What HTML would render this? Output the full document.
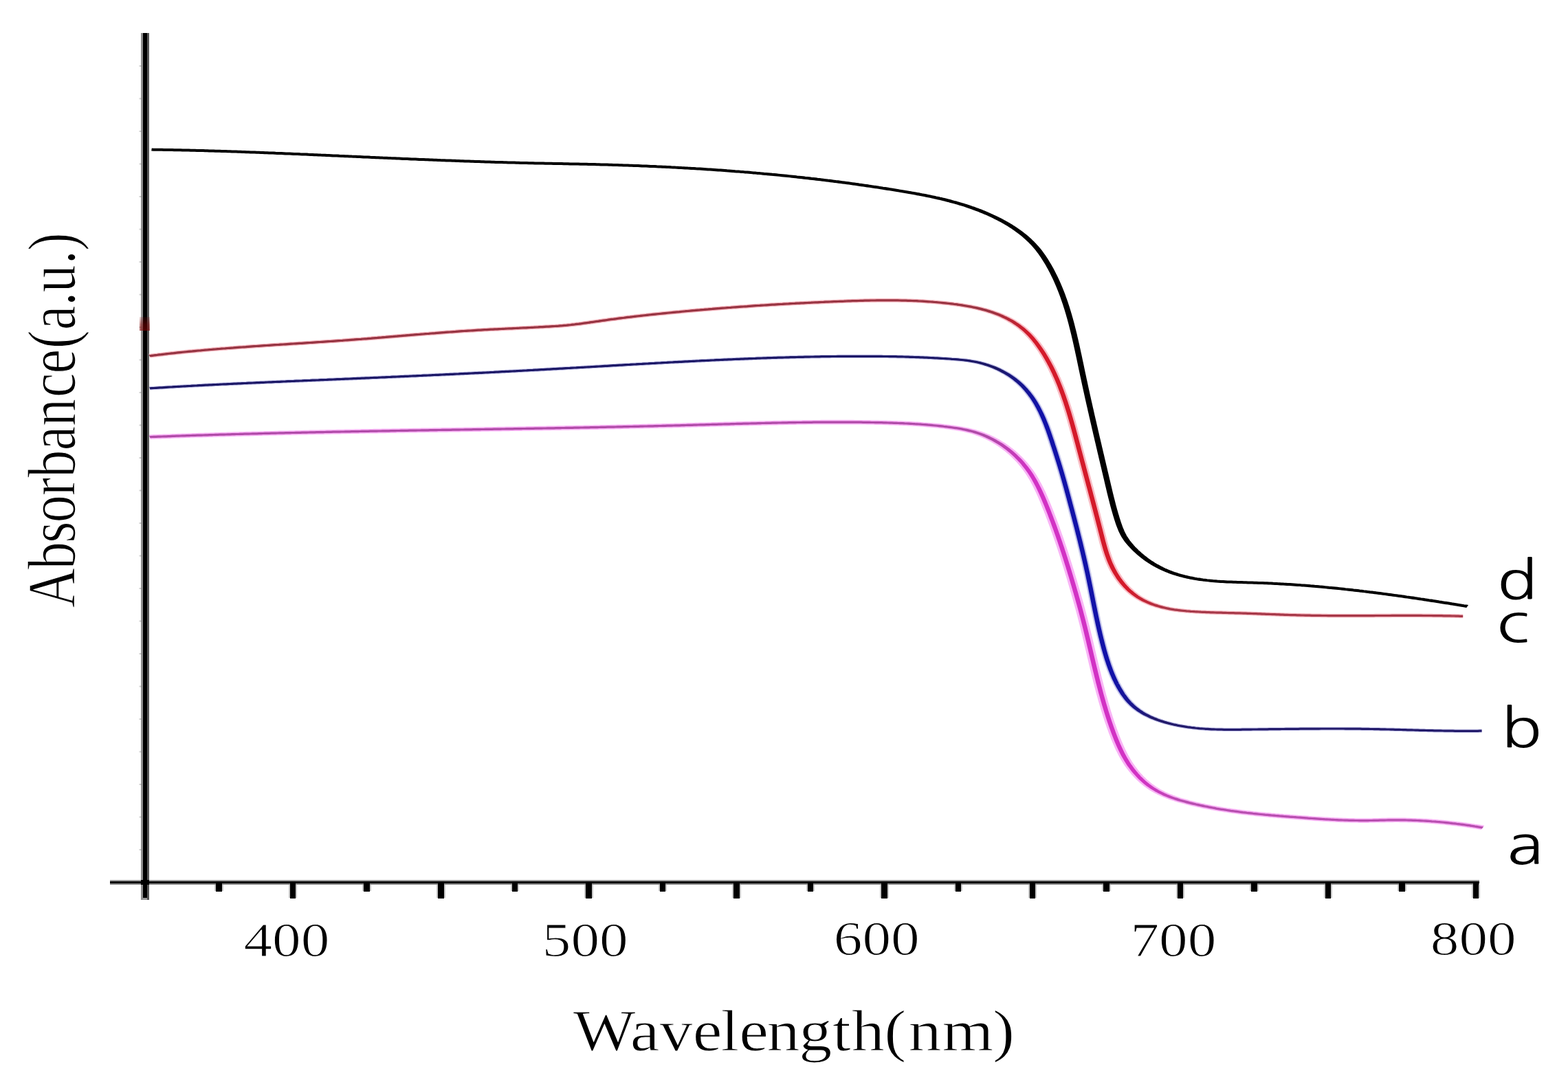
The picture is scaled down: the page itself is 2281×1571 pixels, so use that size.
<!DOCTYPE html><html><head><meta charset="utf-8"><title>Absorbance vs Wavelength</title><style>html,body{margin:0;padding:0;background:#fff;}svg{display:block;}</style></head><body><svg width="2281" height="1571" viewBox="0 0 2281 1571"><rect width="2281" height="1571" fill="#fff"/><g shape-rendering="crispEdges"><rect x="205" y="48" width="3" height="1260.5" fill="#8e8e8e"/><rect x="214" y="48" width="3" height="1260.5" fill="#555"/><rect x="208" y="1306" width="6" height="2.5" fill="#9a9a9a"/><rect x="208" y="48" width="6" height="1258" fill="#000"/><rect x="160" y="1280" width="1992" height="2" fill="#9c9c9c"/><rect x="160" y="1285" width="1992" height="2" fill="#8a8a8a"/><rect x="160" y="1282" width="1992" height="3" fill="#000"/><rect x="205" y="1280" width="12" height="7" fill="#000"/><rect x="312.32" y="1287" width="12.5" height="8.5" fill="#c8c8c8"/><rect x="314.32" y="1283" width="8.5" height="13.5" fill="#000"/><rect x="419.88" y="1287" width="12.5" height="19.0" fill="#c8c8c8"/><rect x="421.88" y="1283" width="8.5" height="24.0" fill="#000"/><rect x="527.45" y="1287" width="12.5" height="8.5" fill="#c8c8c8"/><rect x="529.45" y="1283" width="8.5" height="13.5" fill="#000"/><rect x="635.02" y="1287" width="12.5" height="19.0" fill="#c8c8c8"/><rect x="637.02" y="1283" width="8.5" height="24.0" fill="#000"/><rect x="742.58" y="1287" width="12.5" height="8.5" fill="#c8c8c8"/><rect x="744.58" y="1283" width="8.5" height="13.5" fill="#000"/><rect x="850.15" y="1287" width="12.5" height="19.0" fill="#c8c8c8"/><rect x="852.15" y="1283" width="8.5" height="24.0" fill="#000"/><rect x="957.72" y="1287" width="12.5" height="8.5" fill="#c8c8c8"/><rect x="959.72" y="1283" width="8.5" height="13.5" fill="#000"/><rect x="1065.28" y="1287" width="12.5" height="19.0" fill="#c8c8c8"/><rect x="1067.28" y="1283" width="8.5" height="24.0" fill="#000"/><rect x="1172.85" y="1287" width="12.5" height="8.5" fill="#c8c8c8"/><rect x="1174.85" y="1283" width="8.5" height="13.5" fill="#000"/><rect x="1280.42" y="1287" width="12.5" height="19.0" fill="#c8c8c8"/><rect x="1282.42" y="1283" width="8.5" height="24.0" fill="#000"/><rect x="1387.98" y="1287" width="12.5" height="8.5" fill="#c8c8c8"/><rect x="1389.98" y="1283" width="8.5" height="13.5" fill="#000"/><rect x="1495.55" y="1287" width="12.5" height="19.0" fill="#c8c8c8"/><rect x="1497.55" y="1283" width="8.5" height="24.0" fill="#000"/><rect x="1603.12" y="1287" width="12.5" height="8.5" fill="#c8c8c8"/><rect x="1605.12" y="1283" width="8.5" height="13.5" fill="#000"/><rect x="1710.68" y="1287" width="12.5" height="19.0" fill="#c8c8c8"/><rect x="1712.68" y="1283" width="8.5" height="24.0" fill="#000"/><rect x="1818.25" y="1287" width="12.5" height="8.5" fill="#c8c8c8"/><rect x="1820.25" y="1283" width="8.5" height="13.5" fill="#000"/><rect x="1925.82" y="1287" width="12.5" height="19.0" fill="#c8c8c8"/><rect x="1927.82" y="1283" width="8.5" height="24.0" fill="#000"/><rect x="2033.38" y="1287" width="12.5" height="8.5" fill="#c8c8c8"/><rect x="2035.38" y="1283" width="8.5" height="13.5" fill="#000"/><rect x="2140.95" y="1287" width="12.5" height="19.0" fill="#c8c8c8"/><rect x="2142.95" y="1283" width="8.5" height="24.0" fill="#000"/></g><g fill="#000" opacity="0.18"><rect x="202.5" y="95.0" width="3" height="2"/><rect x="202.5" y="142.5" width="3" height="2"/><rect x="202.5" y="190.0" width="3" height="2"/><rect x="202.5" y="237.5" width="3" height="2"/><rect x="202.5" y="285.0" width="3" height="2"/><rect x="202.5" y="332.5" width="3" height="2"/><rect x="202.5" y="380.0" width="3" height="2"/><rect x="202.5" y="427.5" width="3" height="2"/><rect x="202.5" y="475.0" width="3" height="2"/><rect x="202.5" y="522.5" width="3" height="2"/><rect x="202.5" y="570.0" width="3" height="2"/><rect x="202.5" y="617.5" width="3" height="2"/><rect x="202.5" y="665.0" width="3" height="2"/><rect x="202.5" y="712.5" width="3" height="2"/><rect x="202.5" y="760.0" width="3" height="2"/><rect x="202.5" y="807.5" width="3" height="2"/><rect x="202.5" y="855.0" width="3" height="2"/><rect x="202.5" y="902.5" width="3" height="2"/><rect x="202.5" y="950.0" width="3" height="2"/><rect x="202.5" y="997.5" width="3" height="2"/><rect x="202.5" y="1045.0" width="3" height="2"/><rect x="202.5" y="1092.5" width="3" height="2"/><rect x="202.5" y="1140.0" width="3" height="2"/><rect x="202.5" y="1187.5" width="3" height="2"/><rect x="202.5" y="1235.0" width="3" height="2"/></g><defs><linearGradient id="stain" x1="0" y1="0" x2="0" y2="1"><stop offset="0" stop-color="#800000" stop-opacity="0.15"/><stop offset="0.55" stop-color="#800000" stop-opacity="0.5"/><stop offset="1" stop-color="#800000" stop-opacity="0.6"/></linearGradient></defs><rect x="203" y="461" width="15" height="20" fill="url(#stain)"/><defs><linearGradient id="gr" gradientUnits="userSpaceOnUse" x1="95.24" y1="0" x2="1028.57" y2="0"><stop offset="0.0000" stop-color="#963442"/><stop offset="0.6327" stop-color="#9a3442"/><stop offset="0.6633" stop-color="#d41a2a"/><stop offset="0.7347" stop-color="#d41a2a"/><stop offset="0.7653" stop-color="#a63848"/><stop offset="1.0000" stop-color="#a63848"/></linearGradient><linearGradient id="gb" gradientUnits="userSpaceOnUse" x1="95.24" y1="0" x2="1028.57" y2="0"><stop offset="0.0000" stop-color="#1c1866"/><stop offset="0.6378" stop-color="#1c1866"/><stop offset="0.6684" stop-color="#1212a8"/><stop offset="0.7245" stop-color="#1212a8"/><stop offset="0.7551" stop-color="#221a6a"/><stop offset="1.0000" stop-color="#221a6a"/></linearGradient><linearGradient id="gm" gradientUnits="userSpaceOnUse" x1="95.24" y1="0" x2="1028.57" y2="0"><stop offset="0.0000" stop-color="#b04aa8"/><stop offset="0.6327" stop-color="#b04aa8"/><stop offset="0.6633" stop-color="#d232c4"/><stop offset="0.7449" stop-color="#d232c4"/><stop offset="0.7755" stop-color="#b84eb0"/><stop offset="1.0000" stop-color="#b84eb0"/></linearGradient></defs><g transform="scale(2.1,1)" fill="none" stroke-linejoin="round" stroke-linecap="butt"><path d="M103.71,635.7 105.14,635.5 106.57,635.4 108.00,635.3 109.43,635.2 110.85,635.1 112.28,635.0 113.71,634.9 115.14,634.8 116.57,634.7 117.99,634.6 119.42,634.4 120.85,634.3 122.28,634.2 123.71,634.1 125.13,634.0 126.56,633.9 127.99,633.8 129.42,633.7 130.85,633.6 132.27,633.5 133.70,633.4 135.13,633.3 136.56,633.2 137.99,633.1 139.41,633.1 140.84,633.0 142.27,632.9 143.70,632.8 145.13,632.7 146.56,632.6 147.98,632.5 149.41,632.4 150.84,632.3 152.27,632.2 153.70,632.1 155.12,632.1 156.55,632.0 157.98,631.9 159.41,631.8 160.84,631.7 162.26,631.6 163.69,631.5 165.12,631.5 166.55,631.4 167.98,631.3 169.41,631.2 170.83,631.1 172.26,631.1 173.69,631.0 175.12,630.9 176.55,630.8 177.97,630.8 179.40,630.7 180.83,630.6 182.26,630.5 183.69,630.4 185.12,630.4 186.54,630.3 187.97,630.2 189.40,630.2 190.83,630.1 192.26,630.0 193.69,629.9 195.11,629.9 196.54,629.8 197.97,629.7 199.40,629.7 200.83,629.6 202.26,629.5 203.68,629.5 205.11,629.4 206.54,629.3 207.97,629.3 209.40,629.2 210.83,629.1 212.25,629.1 213.68,629.0 215.11,628.9 216.54,628.9 217.97,628.8 219.40,628.7 220.82,628.7 222.25,628.6 223.68,628.6 225.11,628.5 226.54,628.4 227.97,628.4 229.39,628.3 230.82,628.2 232.25,628.2 233.68,628.1 235.11,628.1 236.54,628.0 237.96,628.0 239.39,627.9 240.82,627.8 242.25,627.8 243.68,627.7 245.11,627.7 246.54,627.6 247.96,627.6 249.39,627.5 250.82,627.4 252.25,627.4 253.68,627.3 255.11,627.3 256.53,627.2 257.96,627.2 259.39,627.1 260.82,627.1 262.25,627.0 263.68,627.0 265.11,626.9 266.53,626.9 267.96,626.8 269.39,626.8 270.82,626.7 272.25,626.6 273.68,626.6 275.10,626.5 276.53,626.5 277.96,626.4 279.39,626.4 280.82,626.3 282.25,626.3 283.68,626.2 285.10,626.2 286.53,626.1 287.96,626.1 289.39,626.0 290.82,626.0 292.25,625.9 293.68,625.9 295.10,625.8 296.53,625.8 297.96,625.7 299.39,625.7 300.82,625.6 302.25,625.6 303.67,625.5 305.10,625.5 306.53,625.4 307.96,625.4 309.39,625.4 310.82,625.3 312.25,625.3 313.67,625.2 315.10,625.2 316.53,625.1 317.96,625.1 319.39,625.0 320.82,625.0 322.25,624.9 323.67,624.9 325.10,624.8 326.53,624.8 327.96,624.7 329.39,624.7 330.82,624.6 332.25,624.6 333.67,624.5 335.10,624.5 336.53,624.4 337.96,624.4 339.39,624.3 340.82,624.3 342.24,624.2 343.67,624.2 345.10,624.1 346.53,624.1 347.96,624.0 349.39,624.0 350.82,623.9 352.24,623.9 353.67,623.8 355.10,623.8 356.53,623.7 357.96,623.7 359.39,623.6 360.82,623.6 362.24,623.5 363.67,623.5 365.10,623.4 366.53,623.4 367.96,623.3 369.39,623.3 370.82,623.2 372.24,623.2 373.67,623.1 375.10,623.1 376.53,623.0 377.96,623.0 379.39,622.9 380.81,622.9 382.24,622.8 383.67,622.8 385.10,622.7 386.53,622.6 387.96,622.6 389.39,622.5 390.81,622.5 392.24,622.4 393.67,622.4 395.10,622.3 396.53,622.3 397.96,622.2 399.39,622.1 400.81,622.1 402.24,622.0 403.67,622.0 405.10,621.9 406.53,621.9 407.96,621.8 409.38,621.7 410.81,621.7 412.24,621.6 413.67,621.6 415.10,621.5 416.53,621.4 417.95,621.4 419.38,621.3 420.81,621.2 422.24,621.2 423.67,621.1 425.10,621.1 426.53,621.0 427.95,620.9 429.38,620.9 430.81,620.8 432.24,620.7 433.67,620.7 435.10,620.6 436.52,620.5 437.95,620.5 439.38,620.4 440.81,620.3 442.24,620.3 443.67,620.2 445.09,620.1 446.52,620.0 447.95,620.0 449.38,619.9 450.81,619.8 452.24,619.8 453.66,619.7 455.09,619.6 456.52,619.5 457.95,619.5 459.38,619.4 460.81,619.3 462.23,619.2 463.66,619.2 465.09,619.1 466.52,619.0 467.95,618.9 469.38,618.9 470.80,618.8 472.23,618.7 473.66,618.6 475.09,618.5 476.52,618.4 477.95,618.4 479.37,618.3 480.80,618.2 482.23,618.1 483.66,618.0 485.09,617.9 486.52,617.9 487.94,617.8 489.37,617.7 490.80,617.6 492.23,617.5 493.66,617.4 495.09,617.4 496.51,617.3 497.94,617.2 499.37,617.1 500.80,617.0 502.23,616.9 503.65,616.9 505.08,616.8 506.51,616.7 507.94,616.6 509.37,616.5 510.80,616.4 512.22,616.4 513.65,616.3 515.08,616.2 516.51,616.1 517.94,616.1 519.36,616.0 520.79,615.9 522.22,615.8 523.65,615.8 525.08,615.7 526.51,615.6 527.93,615.5 529.36,615.5 530.79,615.4 532.22,615.3 533.65,615.3 535.07,615.2 536.50,615.1 537.93,615.1 539.36,615.0 540.79,615.0 542.21,614.9 543.64,614.8 545.07,614.8 546.50,614.7 547.93,614.7 549.36,614.6 550.78,614.6 552.21,614.5 553.64,614.5 555.07,614.5 556.50,614.4 557.92,614.4 559.35,614.3 560.78,614.3 562.21,614.3 563.64,614.2 565.06,614.2 566.49,614.2 567.92,614.2 569.35,614.1 570.78,614.1 572.20,614.1 573.63,614.1 575.06,614.1 576.49,614.1 577.92,614.1 579.35,614.1 580.77,614.1 582.20,614.1 583.63,614.1 585.06,614.1 586.49,614.1 587.91,614.1 589.34,614.1 590.77,614.1 592.20,614.2 593.63,614.2 595.05,614.2 596.48,614.2 597.91,614.3 599.34,614.3 600.77,614.4 602.19,614.4 603.62,614.5 605.05,614.5 606.48,614.6 607.91,614.6 609.33,614.7 610.76,614.7 612.19,614.8 613.62,614.9 615.05,615.0 616.47,615.1 617.90,615.2 619.33,615.3 620.76,615.4 622.18,615.5 623.61,615.6 625.04,615.7 626.47,615.9 627.89,616.0 629.32,616.1 630.75,616.3 632.18,616.5 633.60,616.7 635.03,616.8 636.46,617.0 637.88,617.2 639.31,617.5 640.74,617.7 642.16,617.9 643.59,618.2 645.01,618.4 646.44,618.7 647.87,619.0 649.29,619.3 650.72,619.6 652.14,619.9 653.57,620.3 654.99,620.6 656.42,621.0 657.84,621.4 659.26,621.8 660.69,622.2 662.11,622.6 663.53,623.1 664.94,623.6 666.35,624.1 667.76,624.7 669.16,625.3 670.56,626.0 671.95,626.7 673.33,627.4 674.70,628.2 676.07,629.1 677.43,630.0 678.77,631.0 680.11,632.0 681.44,633.1 682.75,634.3 684.06,635.5 685.35,636.8 686.63,638.1 687.90,639.5 689.15,640.9 690.39,642.4 691.62,644.0 692.83,645.5 694.02,647.2 695.20,648.9 696.37,650.6 697.51,652.4 698.64,654.2 699.75,656.1 700.85,658.0 701.92,660.0 702.98,662.0 704.01,664.1 705.03,666.2 706.02,668.3 707.00,670.5 707.95,672.7 708.88,675.0 709.78,677.3 710.67,679.6 711.53,682.0 712.37,684.4 713.18,686.8 713.97,689.3 714.74,691.8 715.48,694.4 716.21,696.9 716.92,699.5 717.61,702.2 718.28,704.8 718.93,707.5 719.57,710.2 720.20,712.9 720.81,715.6 721.41,718.3 722.00,721.1 722.58,723.9 723.14,726.6 723.70,729.4 724.25,732.2 724.80,735.0 725.33,737.8 725.87,740.6 726.40,743.4 726.92,746.2 727.44,749.0 727.95,751.9 728.46,754.7 728.97,757.5 729.47,760.3 729.97,763.1 730.46,765.9 730.95,768.8 731.43,771.6 731.91,774.4 732.39,777.2 732.86,780.1 733.33,782.9 733.79,785.7 734.26,788.6 734.71,791.4 735.17,794.2 735.62,797.1 736.07,799.9 736.51,802.8 736.95,805.6 737.39,808.5 737.83,811.3 738.26,814.2 738.69,817.0 739.12,819.9 739.54,822.7 739.96,825.6 740.38,828.4 740.80,831.3 741.21,834.2 741.62,837.0 742.03,839.9 742.44,842.7 742.84,845.6 743.24,848.5 743.64,851.4 744.04,854.2 744.44,857.1 744.83,860.0 745.23,862.8 745.62,865.7 746.01,868.6 746.40,871.5 746.78,874.4 747.17,877.3 747.55,880.1 747.92,883.0 748.30,885.9 748.67,888.8 749.04,891.7 749.40,894.6 749.77,897.5 750.12,900.4 750.48,903.3 750.83,906.2 751.18,909.1 751.53,912.0 751.87,914.9 752.21,917.9 752.55,920.8 752.88,923.7 753.22,926.6 753.55,929.5 753.88,932.4 754.21,935.4 754.53,938.3 754.86,941.2 755.19,944.1 755.51,947.0 755.84,950.0 756.17,952.9 756.49,955.8 756.82,958.7 757.15,961.6 757.48,964.6 757.81,967.5 758.14,970.4 758.48,973.3 758.81,976.2 759.15,979.1 759.49,982.0 759.83,985.0 760.18,987.9 760.52,990.8 760.87,993.7 761.23,996.6 761.59,999.5 761.95,1002.4 762.31,1005.3 762.68,1008.2 763.06,1011.1 763.44,1013.9 763.82,1016.8 764.21,1019.7 764.60,1022.6 765.00,1025.5 765.41,1028.3 765.82,1031.2 766.23,1034.1 766.66,1036.9 767.08,1039.8 767.52,1042.7 767.96,1045.5 768.41,1048.4 768.87,1051.2 769.33,1054.0 769.81,1056.9 770.29,1059.7 770.78,1062.5 771.27,1065.4 771.78,1068.2 772.29,1071.0 772.81,1073.8 773.35,1076.6 773.90,1079.4 774.46,1082.2 775.03,1084.9 775.62,1087.7 776.23,1090.4 776.86,1093.1 777.50,1095.8 778.17,1098.5 778.86,1101.1 779.57,1103.7 780.31,1106.3 781.07,1108.9 781.86,1111.4 782.67,1113.9 783.51,1116.3 784.37,1118.7 785.25,1121.1 786.15,1123.4 787.08,1125.7 788.04,1127.9 789.01,1130.1 790.01,1132.2 791.03,1134.3 792.08,1136.3 793.14,1138.2 794.23,1140.1 795.34,1142.0 796.47,1143.7 797.62,1145.4 798.80,1147.1 800.00,1148.6 801.21,1150.1 802.45,1151.5 803.70,1152.9 804.97,1154.2 806.25,1155.5 807.55,1156.7 808.86,1157.8 810.19,1158.9 811.53,1160.0 812.88,1161.0 814.24,1161.9 815.60,1162.9 816.98,1163.8 818.36,1164.6 819.75,1165.4 821.14,1166.2 822.54,1167.0 823.94,1167.8 825.34,1168.5 826.75,1169.2 828.15,1169.9 829.55,1170.5 830.96,1171.2 832.36,1171.8 833.77,1172.5 835.18,1173.1 836.59,1173.6 837.99,1174.2 839.40,1174.8 840.81,1175.3 842.22,1175.9 843.63,1176.4 845.04,1176.9 846.45,1177.4 847.86,1177.8 849.28,1178.3 850.69,1178.7 852.10,1179.2 853.52,1179.6 854.93,1180.0 856.34,1180.4 857.76,1180.8 859.18,1181.2 860.59,1181.6 862.01,1181.9 863.42,1182.3 864.84,1182.6 866.26,1182.9 867.68,1183.3 869.10,1183.6 870.51,1183.9 871.93,1184.2 873.35,1184.5 874.77,1184.8 876.19,1185.1 877.61,1185.3 879.03,1185.6 880.45,1185.9 881.87,1186.1 883.30,1186.4 884.72,1186.6 886.14,1186.9 887.56,1187.1 888.98,1187.4 890.41,1187.6 891.83,1187.8 893.25,1188.1 894.67,1188.3 896.10,1188.5 897.52,1188.7 898.95,1189.0 900.37,1189.2 901.79,1189.4 903.22,1189.6 904.64,1189.8 906.07,1190.1 907.49,1190.3 908.91,1190.5 910.34,1190.7 911.76,1190.9 913.19,1191.1 914.61,1191.3 916.04,1191.5 917.46,1191.7 918.89,1191.8 920.32,1192.0 921.74,1192.2 923.17,1192.3 924.59,1192.5 926.02,1192.6 927.45,1192.8 928.87,1192.9 930.30,1193.0 931.73,1193.1 933.15,1193.2 934.58,1193.3 936.01,1193.4 937.43,1193.4 938.86,1193.5 940.29,1193.5 941.72,1193.6 943.14,1193.6 944.57,1193.6 946.00,1193.6 947.43,1193.6 948.86,1193.5 950.28,1193.5 951.71,1193.4 953.14,1193.3 954.57,1193.3 956.00,1193.2 957.43,1193.1 958.86,1193.1 960.28,1193.0 961.71,1192.9 963.14,1192.9 964.57,1192.9 966.00,1192.8 967.43,1192.8 968.86,1192.8 970.28,1192.9 971.71,1192.9 973.14,1192.9 974.57,1193.0 975.99,1193.1 977.42,1193.2 978.85,1193.3 980.28,1193.4 981.70,1193.5 983.13,1193.6 984.55,1193.8 985.98,1194.0 987.41,1194.1 988.83,1194.3 990.26,1194.5 991.68,1194.8 993.11,1195.0 994.53,1195.2 995.95,1195.5 997.38,1195.7 998.80,1196.0 1000.22,1196.3 1001.64,1196.6 1003.06,1196.9 1004.49,1197.2 1005.91,1197.6 1007.33,1197.9 1008.75,1198.3 1010.16,1198.6 1011.58,1199.0 1013.00,1199.4 1014.42,1199.8 1015.83,1200.2 1017.25,1200.6 1018.67,1201.1 1020.08,1201.5 1021.49,1202.0 1022.91,1202.4 1024.32,1202.9 1025.73,1203.4 1027.14,1203.9" stroke="#f9b4f6" stroke-width="6.6"/><path d="M103.71,635.7 105.14,635.5 106.57,635.4 108.00,635.3 109.43,635.2 110.85,635.1 112.28,635.0 113.71,634.9 115.14,634.8 116.57,634.7 117.99,634.6 119.42,634.4 120.85,634.3 122.28,634.2 123.71,634.1 125.13,634.0 126.56,633.9 127.99,633.8 129.42,633.7 130.85,633.6 132.27,633.5 133.70,633.4 135.13,633.3 136.56,633.2 137.99,633.1 139.41,633.1 140.84,633.0 142.27,632.9 143.70,632.8 145.13,632.7 146.56,632.6 147.98,632.5 149.41,632.4 150.84,632.3 152.27,632.2 153.70,632.1 155.12,632.1 156.55,632.0 157.98,631.9 159.41,631.8 160.84,631.7 162.26,631.6 163.69,631.5 165.12,631.5 166.55,631.4 167.98,631.3 169.41,631.2 170.83,631.1 172.26,631.1 173.69,631.0 175.12,630.9 176.55,630.8 177.97,630.8 179.40,630.7 180.83,630.6 182.26,630.5 183.69,630.4 185.12,630.4 186.54,630.3 187.97,630.2 189.40,630.2 190.83,630.1 192.26,630.0 193.69,629.9 195.11,629.9 196.54,629.8 197.97,629.7 199.40,629.7 200.83,629.6 202.26,629.5 203.68,629.5 205.11,629.4 206.54,629.3 207.97,629.3 209.40,629.2 210.83,629.1 212.25,629.1 213.68,629.0 215.11,628.9 216.54,628.9 217.97,628.8 219.40,628.7 220.82,628.7 222.25,628.6 223.68,628.6 225.11,628.5 226.54,628.4 227.97,628.4 229.39,628.3 230.82,628.2 232.25,628.2 233.68,628.1 235.11,628.1 236.54,628.0 237.96,628.0 239.39,627.9 240.82,627.8 242.25,627.8 243.68,627.7 245.11,627.7 246.54,627.6 247.96,627.6 249.39,627.5 250.82,627.4 252.25,627.4 253.68,627.3 255.11,627.3 256.53,627.2 257.96,627.2 259.39,627.1 260.82,627.1 262.25,627.0 263.68,627.0 265.11,626.9 266.53,626.9 267.96,626.8 269.39,626.8 270.82,626.7 272.25,626.6 273.68,626.6 275.10,626.5 276.53,626.5 277.96,626.4 279.39,626.4 280.82,626.3 282.25,626.3 283.68,626.2 285.10,626.2 286.53,626.1 287.96,626.1 289.39,626.0 290.82,626.0 292.25,625.9 293.68,625.9 295.10,625.8 296.53,625.8 297.96,625.7 299.39,625.7 300.82,625.6 302.25,625.6 303.67,625.5 305.10,625.5 306.53,625.4 307.96,625.4 309.39,625.4 310.82,625.3 312.25,625.3 313.67,625.2 315.10,625.2 316.53,625.1 317.96,625.1 319.39,625.0 320.82,625.0 322.25,624.9 323.67,624.9 325.10,624.8 326.53,624.8 327.96,624.7 329.39,624.7 330.82,624.6 332.25,624.6 333.67,624.5 335.10,624.5 336.53,624.4 337.96,624.4 339.39,624.3 340.82,624.3 342.24,624.2 343.67,624.2 345.10,624.1 346.53,624.1 347.96,624.0 349.39,624.0 350.82,623.9 352.24,623.9 353.67,623.8 355.10,623.8 356.53,623.7 357.96,623.7 359.39,623.6 360.82,623.6 362.24,623.5 363.67,623.5 365.10,623.4 366.53,623.4 367.96,623.3 369.39,623.3 370.82,623.2 372.24,623.2 373.67,623.1 375.10,623.1 376.53,623.0 377.96,623.0 379.39,622.9 380.81,622.9 382.24,622.8 383.67,622.8 385.10,622.7 386.53,622.6 387.96,622.6 389.39,622.5 390.81,622.5 392.24,622.4 393.67,622.4 395.10,622.3 396.53,622.3 397.96,622.2 399.39,622.1 400.81,622.1 402.24,622.0 403.67,622.0 405.10,621.9 406.53,621.9 407.96,621.8 409.38,621.7 410.81,621.7 412.24,621.6 413.67,621.6 415.10,621.5 416.53,621.4 417.95,621.4 419.38,621.3 420.81,621.2 422.24,621.2 423.67,621.1 425.10,621.1 426.53,621.0 427.95,620.9 429.38,620.9 430.81,620.8 432.24,620.7 433.67,620.7 435.10,620.6 436.52,620.5 437.95,620.5 439.38,620.4 440.81,620.3 442.24,620.3 443.67,620.2 445.09,620.1 446.52,620.0 447.95,620.0 449.38,619.9 450.81,619.8 452.24,619.8 453.66,619.7 455.09,619.6 456.52,619.5 457.95,619.5 459.38,619.4 460.81,619.3 462.23,619.2 463.66,619.2 465.09,619.1 466.52,619.0 467.95,618.9 469.38,618.9 470.80,618.8 472.23,618.7 473.66,618.6 475.09,618.5 476.52,618.4 477.95,618.4 479.37,618.3 480.80,618.2 482.23,618.1 483.66,618.0 485.09,617.9 486.52,617.9 487.94,617.8 489.37,617.7 490.80,617.6 492.23,617.5 493.66,617.4 495.09,617.4 496.51,617.3 497.94,617.2 499.37,617.1 500.80,617.0 502.23,616.9 503.65,616.9 505.08,616.8 506.51,616.7 507.94,616.6 509.37,616.5 510.80,616.4 512.22,616.4 513.65,616.3 515.08,616.2 516.51,616.1 517.94,616.1 519.36,616.0 520.79,615.9 522.22,615.8 523.65,615.8 525.08,615.7 526.51,615.6 527.93,615.5 529.36,615.5 530.79,615.4 532.22,615.3 533.65,615.3 535.07,615.2 536.50,615.1 537.93,615.1 539.36,615.0 540.79,615.0 542.21,614.9 543.64,614.8 545.07,614.8 546.50,614.7 547.93,614.7 549.36,614.6 550.78,614.6 552.21,614.5 553.64,614.5 555.07,614.5 556.50,614.4 557.92,614.4 559.35,614.3 560.78,614.3 562.21,614.3 563.64,614.2 565.06,614.2 566.49,614.2 567.92,614.2 569.35,614.1 570.78,614.1 572.20,614.1 573.63,614.1 575.06,614.1 576.49,614.1 577.92,614.1 579.35,614.1 580.77,614.1 582.20,614.1 583.63,614.1 585.06,614.1 586.49,614.1 587.91,614.1 589.34,614.1 590.77,614.1 592.20,614.2 593.63,614.2 595.05,614.2 596.48,614.2 597.91,614.3 599.34,614.3 600.77,614.4 602.19,614.4 603.62,614.5 605.05,614.5 606.48,614.6 607.91,614.6 609.33,614.7 610.76,614.7 612.19,614.8 613.62,614.9 615.05,615.0 616.47,615.1 617.90,615.2 619.33,615.3 620.76,615.4 622.18,615.5 623.61,615.6 625.04,615.7 626.47,615.9 627.89,616.0 629.32,616.1 630.75,616.3 632.18,616.5 633.60,616.7 635.03,616.8 636.46,617.0 637.88,617.2 639.31,617.5 640.74,617.7 642.16,617.9 643.59,618.2 645.01,618.4 646.44,618.7 647.87,619.0 649.29,619.3 650.72,619.6 652.14,619.9 653.57,620.3 654.99,620.6 656.42,621.0 657.84,621.4 659.26,621.8 660.69,622.2 662.11,622.6 663.53,623.1 664.94,623.6 666.35,624.1 667.76,624.7 669.16,625.3 670.56,626.0 671.95,626.7 673.33,627.4 674.70,628.2 676.07,629.1 677.43,630.0 678.77,631.0 680.11,632.0 681.44,633.1 682.75,634.3 684.06,635.5 685.35,636.8 686.63,638.1 687.90,639.5 689.15,640.9 690.39,642.4 691.62,644.0 692.83,645.5 694.02,647.2 695.20,648.9 696.37,650.6 697.51,652.4 698.64,654.2 699.75,656.1 700.85,658.0 701.92,660.0 702.98,662.0 704.01,664.1 705.03,666.2 706.02,668.3 707.00,670.5 707.95,672.7 708.88,675.0 709.78,677.3 710.67,679.6 711.53,682.0 712.37,684.4 713.18,686.8 713.97,689.3 714.74,691.8 715.48,694.4 716.21,696.9 716.92,699.5 717.61,702.2 718.28,704.8 718.93,707.5 719.57,710.2 720.20,712.9 720.81,715.6 721.41,718.3 722.00,721.1 722.58,723.9 723.14,726.6 723.70,729.4 724.25,732.2 724.80,735.0 725.33,737.8 725.87,740.6 726.40,743.4 726.92,746.2 727.44,749.0 727.95,751.9 728.46,754.7 728.97,757.5 729.47,760.3 729.97,763.1 730.46,765.9 730.95,768.8 731.43,771.6 731.91,774.4 732.39,777.2 732.86,780.1 733.33,782.9 733.79,785.7 734.26,788.6 734.71,791.4 735.17,794.2 735.62,797.1 736.07,799.9 736.51,802.8 736.95,805.6 737.39,808.5 737.83,811.3 738.26,814.2 738.69,817.0 739.12,819.9 739.54,822.7 739.96,825.6 740.38,828.4 740.80,831.3 741.21,834.2 741.62,837.0 742.03,839.9 742.44,842.7 742.84,845.6 743.24,848.5 743.64,851.4 744.04,854.2 744.44,857.1 744.83,860.0 745.23,862.8 745.62,865.7 746.01,868.6 746.40,871.5 746.78,874.4 747.17,877.3 747.55,880.1 747.92,883.0 748.30,885.9 748.67,888.8 749.04,891.7 749.40,894.6 749.77,897.5 750.12,900.4 750.48,903.3 750.83,906.2 751.18,909.1 751.53,912.0 751.87,914.9 752.21,917.9 752.55,920.8 752.88,923.7 753.22,926.6 753.55,929.5 753.88,932.4 754.21,935.4 754.53,938.3 754.86,941.2 755.19,944.1 755.51,947.0 755.84,950.0 756.17,952.9 756.49,955.8 756.82,958.7 757.15,961.6 757.48,964.6 757.81,967.5 758.14,970.4 758.48,973.3 758.81,976.2 759.15,979.1 759.49,982.0 759.83,985.0 760.18,987.9 760.52,990.8 760.87,993.7 761.23,996.6 761.59,999.5 761.95,1002.4 762.31,1005.3 762.68,1008.2 763.06,1011.1 763.44,1013.9 763.82,1016.8 764.21,1019.7 764.60,1022.6 765.00,1025.5 765.41,1028.3 765.82,1031.2 766.23,1034.1 766.66,1036.9 767.08,1039.8 767.52,1042.7 767.96,1045.5 768.41,1048.4 768.87,1051.2 769.33,1054.0 769.81,1056.9 770.29,1059.7 770.78,1062.5 771.27,1065.4 771.78,1068.2 772.29,1071.0 772.81,1073.8 773.35,1076.6 773.90,1079.4 774.46,1082.2 775.03,1084.9 775.62,1087.7 776.23,1090.4 776.86,1093.1 777.50,1095.8 778.17,1098.5 778.86,1101.1 779.57,1103.7 780.31,1106.3 781.07,1108.9 781.86,1111.4 782.67,1113.9 783.51,1116.3 784.37,1118.7 785.25,1121.1 786.15,1123.4 787.08,1125.7 788.04,1127.9 789.01,1130.1 790.01,1132.2 791.03,1134.3 792.08,1136.3 793.14,1138.2 794.23,1140.1 795.34,1142.0 796.47,1143.7 797.62,1145.4 798.80,1147.1 800.00,1148.6 801.21,1150.1 802.45,1151.5 803.70,1152.9 804.97,1154.2 806.25,1155.5 807.55,1156.7 808.86,1157.8 810.19,1158.9 811.53,1160.0 812.88,1161.0 814.24,1161.9 815.60,1162.9 816.98,1163.8 818.36,1164.6 819.75,1165.4 821.14,1166.2 822.54,1167.0 823.94,1167.8 825.34,1168.5 826.75,1169.2 828.15,1169.9 829.55,1170.5 830.96,1171.2 832.36,1171.8 833.77,1172.5 835.18,1173.1 836.59,1173.6 837.99,1174.2 839.40,1174.8 840.81,1175.3 842.22,1175.9 843.63,1176.4 845.04,1176.9 846.45,1177.4 847.86,1177.8 849.28,1178.3 850.69,1178.7 852.10,1179.2 853.52,1179.6 854.93,1180.0 856.34,1180.4 857.76,1180.8 859.18,1181.2 860.59,1181.6 862.01,1181.9 863.42,1182.3 864.84,1182.6 866.26,1182.9 867.68,1183.3 869.10,1183.6 870.51,1183.9 871.93,1184.2 873.35,1184.5 874.77,1184.8 876.19,1185.1 877.61,1185.3 879.03,1185.6 880.45,1185.9 881.87,1186.1 883.30,1186.4 884.72,1186.6 886.14,1186.9 887.56,1187.1 888.98,1187.4 890.41,1187.6 891.83,1187.8 893.25,1188.1 894.67,1188.3 896.10,1188.5 897.52,1188.7 898.95,1189.0 900.37,1189.2 901.79,1189.4 903.22,1189.6 904.64,1189.8 906.07,1190.1 907.49,1190.3 908.91,1190.5 910.34,1190.7 911.76,1190.9 913.19,1191.1 914.61,1191.3 916.04,1191.5 917.46,1191.7 918.89,1191.8 920.32,1192.0 921.74,1192.2 923.17,1192.3 924.59,1192.5 926.02,1192.6 927.45,1192.8 928.87,1192.9 930.30,1193.0 931.73,1193.1 933.15,1193.2 934.58,1193.3 936.01,1193.4 937.43,1193.4 938.86,1193.5 940.29,1193.5 941.72,1193.6 943.14,1193.6 944.57,1193.6 946.00,1193.6 947.43,1193.6 948.86,1193.5 950.28,1193.5 951.71,1193.4 953.14,1193.3 954.57,1193.3 956.00,1193.2 957.43,1193.1 958.86,1193.1 960.28,1193.0 961.71,1192.9 963.14,1192.9 964.57,1192.9 966.00,1192.8 967.43,1192.8 968.86,1192.8 970.28,1192.9 971.71,1192.9 973.14,1192.9 974.57,1193.0 975.99,1193.1 977.42,1193.2 978.85,1193.3 980.28,1193.4 981.70,1193.5 983.13,1193.6 984.55,1193.8 985.98,1194.0 987.41,1194.1 988.83,1194.3 990.26,1194.5 991.68,1194.8 993.11,1195.0 994.53,1195.2 995.95,1195.5 997.38,1195.7 998.80,1196.0 1000.22,1196.3 1001.64,1196.6 1003.06,1196.9 1004.49,1197.2 1005.91,1197.6 1007.33,1197.9 1008.75,1198.3 1010.16,1198.6 1011.58,1199.0 1013.00,1199.4 1014.42,1199.8 1015.83,1200.2 1017.25,1200.6 1018.67,1201.1 1020.08,1201.5 1021.49,1202.0 1022.91,1202.4 1024.32,1202.9 1025.73,1203.4 1027.14,1203.9" stroke="url(#gm)" stroke-width="3.2"/><path d="M103.72,564.9 105.15,564.7 106.58,564.5 108.00,564.3 109.43,564.1 110.85,563.9 112.28,563.8 113.71,563.6 115.13,563.4 116.56,563.2 117.99,563.0 119.41,562.9 120.84,562.7 122.27,562.5 123.69,562.3 125.12,562.2 126.55,562.0 127.97,561.8 129.40,561.7 130.83,561.5 132.25,561.4 133.68,561.2 135.11,561.0 136.53,560.9 137.96,560.7 139.39,560.6 140.82,560.4 142.24,560.2 143.67,560.1 145.10,559.9 146.52,559.8 147.95,559.6 149.38,559.5 150.81,559.3 152.23,559.2 153.66,559.0 155.09,558.9 156.52,558.8 157.94,558.6 159.37,558.5 160.80,558.3 162.23,558.2 163.65,558.1 165.08,557.9 166.51,557.8 167.94,557.6 169.36,557.5 170.79,557.4 172.22,557.2 173.65,557.1 175.07,557.0 176.50,556.8 177.93,556.7 179.36,556.6 180.79,556.4 182.21,556.3 183.64,556.2 185.07,556.0 186.50,555.9 187.92,555.8 189.35,555.6 190.78,555.5 192.21,555.4 193.64,555.3 195.06,555.1 196.49,555.0 197.92,554.9 199.35,554.7 200.77,554.6 202.20,554.5 203.63,554.4 205.06,554.2 206.49,554.1 207.91,554.0 209.34,553.9 210.77,553.7 212.20,553.6 213.63,553.5 215.05,553.4 216.48,553.2 217.91,553.1 219.34,553.0 220.76,552.9 222.19,552.7 223.62,552.6 225.05,552.5 226.48,552.4 227.90,552.2 229.33,552.1 230.76,552.0 232.19,551.8 233.61,551.7 235.04,551.6 236.47,551.5 237.90,551.3 239.33,551.2 240.75,551.1 242.18,551.0 243.61,550.8 245.04,550.7 246.46,550.6 247.89,550.4 249.32,550.3 250.75,550.2 252.17,550.1 253.60,549.9 255.03,549.8 256.46,549.7 257.89,549.5 259.31,549.4 260.74,549.3 262.17,549.2 263.60,549.0 265.02,548.9 266.45,548.8 267.88,548.6 269.31,548.5 270.73,548.4 272.16,548.2 273.59,548.1 275.02,548.0 276.44,547.8 277.87,547.7 279.30,547.6 280.73,547.4 282.15,547.3 283.58,547.2 285.01,547.0 286.44,546.9 287.86,546.8 289.29,546.6 290.72,546.5 292.15,546.4 293.57,546.2 295.00,546.1 296.43,546.0 297.86,545.8 299.28,545.7 300.71,545.5 302.14,545.4 303.56,545.3 304.99,545.1 306.42,545.0 307.85,544.8 309.27,544.7 310.70,544.6 312.13,544.4 313.56,544.3 314.98,544.1 316.41,544.0 317.84,543.9 319.27,543.7 320.69,543.6 322.12,543.4 323.55,543.3 324.97,543.1 326.40,543.0 327.83,542.8 329.26,542.7 330.68,542.6 332.11,542.4 333.54,542.3 334.96,542.1 336.39,542.0 337.82,541.8 339.25,541.7 340.67,541.5 342.10,541.4 343.53,541.2 344.95,541.1 346.38,540.9 347.81,540.7 349.24,540.6 350.66,540.4 352.09,540.3 353.52,540.1 354.94,540.0 356.37,539.8 357.80,539.7 359.23,539.5 360.65,539.3 362.08,539.2 363.51,539.0 364.93,538.9 366.36,538.7 367.79,538.5 369.21,538.4 370.64,538.2 372.07,538.1 373.50,537.9 374.92,537.7 376.35,537.6 377.78,537.4 379.20,537.2 380.63,537.1 382.06,536.9 383.48,536.7 384.91,536.6 386.34,536.4 387.76,536.2 389.19,536.1 390.62,535.9 392.05,535.7 393.47,535.5 394.90,535.4 396.33,535.2 397.75,535.0 399.18,534.9 400.61,534.7 402.03,534.5 403.46,534.3 404.89,534.2 406.31,534.0 407.74,533.8 409.17,533.7 410.59,533.5 412.02,533.3 413.45,533.1 414.87,533.0 416.30,532.8 417.73,532.6 419.16,532.4 420.58,532.3 422.01,532.1 423.44,531.9 424.86,531.7 426.29,531.6 427.72,531.4 429.14,531.2 430.57,531.1 432.00,530.9 433.42,530.7 434.85,530.5 436.28,530.4 437.70,530.2 439.13,530.0 440.56,529.9 441.99,529.7 443.41,529.5 444.84,529.4 446.27,529.2 447.69,529.0 449.12,528.9 450.55,528.7 451.97,528.5 453.40,528.4 454.83,528.2 456.25,528.0 457.68,527.9 459.11,527.7 460.54,527.5 461.96,527.4 463.39,527.2 464.82,527.0 466.24,526.9 467.67,526.7 469.10,526.6 470.53,526.4 471.95,526.3 473.38,526.1 474.81,525.9 476.23,525.8 477.66,525.6 479.09,525.5 480.52,525.3 481.94,525.2 483.37,525.0 484.80,524.9 486.22,524.7 487.65,524.6 489.08,524.5 490.51,524.3 491.93,524.2 493.36,524.0 494.79,523.9 496.22,523.7 497.64,523.6 499.07,523.5 500.50,523.3 501.93,523.2 503.35,523.1 504.78,522.9 506.21,522.8 507.64,522.7 509.06,522.5 510.49,522.4 511.92,522.3 513.35,522.2 514.77,522.1 516.20,521.9 517.63,521.8 519.06,521.7 520.48,521.6 521.91,521.5 523.34,521.4 524.77,521.2 526.20,521.1 527.62,521.0 529.05,520.9 530.48,520.8 531.91,520.7 533.34,520.6 534.76,520.5 536.19,520.4 537.62,520.3 539.05,520.2 540.48,520.1 541.90,520.1 543.33,520.0 544.76,519.9 546.19,519.8 547.62,519.7 549.05,519.6 550.47,519.6 551.90,519.5 553.33,519.4 554.76,519.3 556.19,519.3 557.62,519.2 559.04,519.1 560.47,519.1 561.90,519.0 563.33,519.0 564.76,518.9 566.19,518.8 567.62,518.8 569.05,518.7 570.47,518.7 571.90,518.7 573.33,518.6 574.76,518.6 576.19,518.5 577.62,518.5 579.05,518.5 580.48,518.4 581.91,518.4 583.34,518.4 584.77,518.4 586.19,518.3 587.62,518.3 589.05,518.3 590.48,518.3 591.91,518.3 593.34,518.3 594.77,518.3 596.20,518.3 597.63,518.3 599.06,518.3 600.49,518.3 601.92,518.3 603.35,518.3 604.78,518.3 606.21,518.4 607.64,518.4 609.07,518.4 610.50,518.4 611.93,518.5 613.36,518.5 614.79,518.5 616.22,518.6 617.65,518.6 619.07,518.7 620.50,518.7 621.93,518.8 623.36,518.9 624.79,518.9 626.22,519.0 627.65,519.1 629.08,519.2 630.51,519.3 631.94,519.4 633.37,519.5 634.79,519.6 636.22,519.7 637.65,519.8 639.08,519.9 640.51,520.1 641.94,520.2 643.36,520.3 644.79,520.5 646.22,520.6 647.65,520.8 649.07,520.9 650.50,521.1 651.93,521.3 653.35,521.5 654.78,521.6 656.21,521.8 657.63,522.0 659.06,522.3 660.48,522.5 661.91,522.7 663.33,522.9 664.76,523.2 666.18,523.5 667.60,523.8 669.02,524.1 670.44,524.5 671.85,524.9 673.26,525.4 674.67,525.9 676.08,526.5 677.48,527.1 678.88,527.8 680.27,528.6 681.66,529.4 683.03,530.3 684.40,531.2 685.76,532.2 687.11,533.2 688.45,534.3 689.78,535.5 691.09,536.7 692.39,538.0 693.68,539.4 694.95,540.8 696.20,542.2 697.44,543.7 698.66,545.3 699.85,546.9 701.03,548.6 702.19,550.4 703.33,552.2 704.44,554.1 705.53,556.0 706.59,558.0 707.63,560.0 708.64,562.1 709.62,564.3 710.58,566.5 711.51,568.8 712.42,571.1 713.30,573.5 714.15,575.9 714.98,578.3 715.78,580.8 716.55,583.3 717.30,585.8 718.02,588.4 718.72,591.0 719.40,593.6 720.06,596.3 720.70,599.0 721.31,601.7 721.91,604.4 722.50,607.2 723.06,609.9 723.61,612.7 724.15,615.5 724.68,618.3 725.19,621.1 725.69,624.0 726.18,626.8 726.66,629.7 727.13,632.5 727.60,635.4 728.05,638.3 728.51,641.1 728.96,644.0 729.40,646.9 729.85,649.7 730.29,652.6 730.73,655.5 731.17,658.3 731.60,661.2 732.04,664.0 732.47,666.9 732.89,669.7 733.32,672.6 733.74,675.4 734.16,678.3 734.57,681.2 734.98,684.0 735.38,686.9 735.78,689.7 736.18,692.6 736.57,695.5 736.96,698.4 737.35,701.3 737.73,704.1 738.11,707.0 738.49,709.9 738.87,712.8 739.24,715.7 739.62,718.6 739.99,721.5 740.36,724.4 740.73,727.3 741.10,730.2 741.46,733.1 741.83,736.0 742.20,738.9 742.57,741.8 742.93,744.7 743.30,747.6 743.66,750.5 744.02,753.4 744.38,756.3 744.74,759.2 745.10,762.1 745.46,765.0 745.81,767.9 746.17,770.9 746.52,773.8 746.87,776.7 747.22,779.6 747.57,782.5 747.91,785.4 748.26,788.3 748.60,791.3 748.94,794.2 749.27,797.1 749.61,800.0 749.94,802.9 750.27,805.9 750.60,808.8 750.92,811.7 751.24,814.6 751.56,817.5 751.88,820.5 752.19,823.4 752.50,826.3 752.81,829.3 753.12,832.2 753.42,835.1 753.72,838.1 754.01,841.0 754.30,843.9 754.59,846.9 754.88,849.8 755.16,852.7 755.45,855.7 755.73,858.6 756.01,861.5 756.29,864.5 756.57,867.4 756.85,870.3 757.13,873.3 757.40,876.2 757.68,879.2 757.97,882.1 758.25,885.0 758.53,888.0 758.82,890.9 759.11,893.8 759.40,896.8 759.69,899.7 759.99,902.6 760.29,905.5 760.59,908.5 760.90,911.4 761.21,914.3 761.53,917.2 761.85,920.2 762.18,923.1 762.51,926.0 762.85,928.9 763.20,931.8 763.55,934.7 763.91,937.6 764.27,940.5 764.64,943.5 765.03,946.4 765.42,949.2 765.82,952.1 766.23,955.0 766.65,957.9 767.08,960.8 767.53,963.6 767.99,966.5 768.47,969.3 768.96,972.1 769.46,975.0 769.99,977.8 770.53,980.6 771.09,983.3 771.67,986.1 772.27,988.8 772.90,991.5 773.54,994.3 774.21,996.9 774.90,999.6 775.61,1002.2 776.35,1004.8 777.12,1007.4 777.91,1009.9 778.73,1012.3 779.59,1014.7 780.47,1017.1 781.38,1019.4 782.33,1021.6 783.30,1023.7 784.32,1025.8 785.36,1027.7 786.44,1029.6 787.55,1031.4 788.68,1033.2 789.85,1034.8 791.04,1036.4 792.26,1037.9 793.49,1039.4 794.75,1040.7 796.03,1042.0 797.33,1043.3 798.65,1044.5 799.97,1045.6 801.32,1046.7 802.67,1047.7 804.04,1048.7 805.42,1049.6 806.80,1050.5 808.19,1051.3 809.58,1052.1 810.98,1052.9 812.38,1053.6 813.78,1054.2 815.18,1054.9 816.58,1055.5 817.99,1056.0 819.40,1056.5 820.81,1057.0 822.22,1057.5 823.63,1057.9 825.04,1058.3 826.46,1058.6 827.88,1059.0 829.30,1059.3 830.72,1059.6 832.14,1059.8 833.56,1060.0 834.98,1060.3 836.41,1060.4 837.83,1060.6 839.26,1060.8 840.69,1060.9 842.11,1061.0 843.54,1061.1 844.97,1061.1 846.40,1061.2 847.83,1061.3 849.26,1061.3 850.69,1061.3 852.13,1061.3 853.56,1061.3 854.99,1061.3 856.42,1061.3 857.85,1061.3 859.29,1061.3 860.72,1061.2 862.15,1061.2 863.58,1061.2 865.02,1061.1 866.45,1061.1 867.88,1061.0 869.31,1061.0 870.74,1061.0 872.17,1060.9 873.61,1060.9 875.04,1060.9 876.47,1060.8 877.90,1060.8 879.33,1060.7 880.76,1060.7 882.19,1060.7 883.62,1060.6 885.05,1060.6 886.47,1060.6 887.90,1060.5 889.33,1060.5 890.76,1060.4 892.19,1060.4 893.62,1060.4 895.05,1060.4 896.48,1060.3 897.90,1060.3 899.33,1060.3 900.76,1060.2 902.19,1060.2 903.62,1060.2 905.04,1060.2 906.47,1060.1 907.90,1060.1 909.33,1060.1 910.75,1060.1 912.18,1060.1 913.61,1060.1 915.04,1060.0 916.46,1060.0 917.89,1060.0 919.32,1060.0 920.75,1060.0 922.17,1060.0 923.60,1060.0 925.03,1060.0 926.46,1060.0 927.88,1060.0 929.31,1060.0 930.74,1060.0 932.17,1060.1 933.59,1060.1 935.02,1060.1 936.45,1060.1 937.88,1060.1 939.30,1060.2 940.73,1060.2 942.16,1060.2 943.59,1060.3 945.02,1060.3 946.45,1060.4 947.87,1060.4 949.30,1060.5 950.73,1060.5 952.16,1060.6 953.59,1060.6 955.02,1060.7 956.45,1060.8 957.88,1060.8 959.30,1060.9 960.73,1061.0 962.16,1061.0 963.59,1061.1 965.02,1061.2 966.45,1061.3 967.88,1061.4 969.31,1061.4 970.74,1061.5 972.17,1061.6 973.60,1061.7 975.03,1061.8 976.46,1061.8 977.89,1061.9 979.32,1062.0 980.75,1062.1 982.18,1062.2 983.61,1062.3 985.04,1062.3 986.47,1062.4 987.90,1062.5 989.33,1062.6 990.76,1062.6 992.19,1062.7 993.62,1062.8 995.05,1062.8 996.48,1062.9 997.91,1062.9 999.34,1063.0 1000.76,1063.1 1002.19,1063.1 1003.62,1063.2 1005.05,1063.2 1006.48,1063.2 1007.91,1063.3 1009.34,1063.3 1010.77,1063.3 1012.20,1063.3 1013.62,1063.3 1015.05,1063.4 1016.48,1063.4 1017.91,1063.4 1019.34,1063.3 1020.77,1063.3 1022.19,1063.3 1023.62,1063.3 1025.05,1063.2 1026.48,1063.2" stroke="#c4c4ea" stroke-width="5.2"/><path d="M103.72,564.9 105.15,564.7 106.58,564.5 108.00,564.3 109.43,564.1 110.85,563.9 112.28,563.8 113.71,563.6 115.13,563.4 116.56,563.2 117.99,563.0 119.41,562.9 120.84,562.7 122.27,562.5 123.69,562.3 125.12,562.2 126.55,562.0 127.97,561.8 129.40,561.7 130.83,561.5 132.25,561.4 133.68,561.2 135.11,561.0 136.53,560.9 137.96,560.7 139.39,560.6 140.82,560.4 142.24,560.2 143.67,560.1 145.10,559.9 146.52,559.8 147.95,559.6 149.38,559.5 150.81,559.3 152.23,559.2 153.66,559.0 155.09,558.9 156.52,558.8 157.94,558.6 159.37,558.5 160.80,558.3 162.23,558.2 163.65,558.1 165.08,557.9 166.51,557.8 167.94,557.6 169.36,557.5 170.79,557.4 172.22,557.2 173.65,557.1 175.07,557.0 176.50,556.8 177.93,556.7 179.36,556.6 180.79,556.4 182.21,556.3 183.64,556.2 185.07,556.0 186.50,555.9 187.92,555.8 189.35,555.6 190.78,555.5 192.21,555.4 193.64,555.3 195.06,555.1 196.49,555.0 197.92,554.9 199.35,554.7 200.77,554.6 202.20,554.5 203.63,554.4 205.06,554.2 206.49,554.1 207.91,554.0 209.34,553.9 210.77,553.7 212.20,553.6 213.63,553.5 215.05,553.4 216.48,553.2 217.91,553.1 219.34,553.0 220.76,552.9 222.19,552.7 223.62,552.6 225.05,552.5 226.48,552.4 227.90,552.2 229.33,552.1 230.76,552.0 232.19,551.8 233.61,551.7 235.04,551.6 236.47,551.5 237.90,551.3 239.33,551.2 240.75,551.1 242.18,551.0 243.61,550.8 245.04,550.7 246.46,550.6 247.89,550.4 249.32,550.3 250.75,550.2 252.17,550.1 253.60,549.9 255.03,549.8 256.46,549.7 257.89,549.5 259.31,549.4 260.74,549.3 262.17,549.2 263.60,549.0 265.02,548.9 266.45,548.8 267.88,548.6 269.31,548.5 270.73,548.4 272.16,548.2 273.59,548.1 275.02,548.0 276.44,547.8 277.87,547.7 279.30,547.6 280.73,547.4 282.15,547.3 283.58,547.2 285.01,547.0 286.44,546.9 287.86,546.8 289.29,546.6 290.72,546.5 292.15,546.4 293.57,546.2 295.00,546.1 296.43,546.0 297.86,545.8 299.28,545.7 300.71,545.5 302.14,545.4 303.56,545.3 304.99,545.1 306.42,545.0 307.85,544.8 309.27,544.7 310.70,544.6 312.13,544.4 313.56,544.3 314.98,544.1 316.41,544.0 317.84,543.9 319.27,543.7 320.69,543.6 322.12,543.4 323.55,543.3 324.97,543.1 326.40,543.0 327.83,542.8 329.26,542.7 330.68,542.6 332.11,542.4 333.54,542.3 334.96,542.1 336.39,542.0 337.82,541.8 339.25,541.7 340.67,541.5 342.10,541.4 343.53,541.2 344.95,541.1 346.38,540.9 347.81,540.7 349.24,540.6 350.66,540.4 352.09,540.3 353.52,540.1 354.94,540.0 356.37,539.8 357.80,539.7 359.23,539.5 360.65,539.3 362.08,539.2 363.51,539.0 364.93,538.9 366.36,538.7 367.79,538.5 369.21,538.4 370.64,538.2 372.07,538.1 373.50,537.9 374.92,537.7 376.35,537.6 377.78,537.4 379.20,537.2 380.63,537.1 382.06,536.9 383.48,536.7 384.91,536.6 386.34,536.4 387.76,536.2 389.19,536.1 390.62,535.9 392.05,535.7 393.47,535.5 394.90,535.4 396.33,535.2 397.75,535.0 399.18,534.9 400.61,534.7 402.03,534.5 403.46,534.3 404.89,534.2 406.31,534.0 407.74,533.8 409.17,533.7 410.59,533.5 412.02,533.3 413.45,533.1 414.87,533.0 416.30,532.8 417.73,532.6 419.16,532.4 420.58,532.3 422.01,532.1 423.44,531.9 424.86,531.7 426.29,531.6 427.72,531.4 429.14,531.2 430.57,531.1 432.00,530.9 433.42,530.7 434.85,530.5 436.28,530.4 437.70,530.2 439.13,530.0 440.56,529.9 441.99,529.7 443.41,529.5 444.84,529.4 446.27,529.2 447.69,529.0 449.12,528.9 450.55,528.7 451.97,528.5 453.40,528.4 454.83,528.2 456.25,528.0 457.68,527.9 459.11,527.7 460.54,527.5 461.96,527.4 463.39,527.2 464.82,527.0 466.24,526.9 467.67,526.7 469.10,526.6 470.53,526.4 471.95,526.3 473.38,526.1 474.81,525.9 476.23,525.8 477.66,525.6 479.09,525.5 480.52,525.3 481.94,525.2 483.37,525.0 484.80,524.9 486.22,524.7 487.65,524.6 489.08,524.5 490.51,524.3 491.93,524.2 493.36,524.0 494.79,523.9 496.22,523.7 497.64,523.6 499.07,523.5 500.50,523.3 501.93,523.2 503.35,523.1 504.78,522.9 506.21,522.8 507.64,522.7 509.06,522.5 510.49,522.4 511.92,522.3 513.35,522.2 514.77,522.1 516.20,521.9 517.63,521.8 519.06,521.7 520.48,521.6 521.91,521.5 523.34,521.4 524.77,521.2 526.20,521.1 527.62,521.0 529.05,520.9 530.48,520.8 531.91,520.7 533.34,520.6 534.76,520.5 536.19,520.4 537.62,520.3 539.05,520.2 540.48,520.1 541.90,520.1 543.33,520.0 544.76,519.9 546.19,519.8 547.62,519.7 549.05,519.6 550.47,519.6 551.90,519.5 553.33,519.4 554.76,519.3 556.19,519.3 557.62,519.2 559.04,519.1 560.47,519.1 561.90,519.0 563.33,519.0 564.76,518.9 566.19,518.8 567.62,518.8 569.05,518.7 570.47,518.7 571.90,518.7 573.33,518.6 574.76,518.6 576.19,518.5 577.62,518.5 579.05,518.5 580.48,518.4 581.91,518.4 583.34,518.4 584.77,518.4 586.19,518.3 587.62,518.3 589.05,518.3 590.48,518.3 591.91,518.3 593.34,518.3 594.77,518.3 596.20,518.3 597.63,518.3 599.06,518.3 600.49,518.3 601.92,518.3 603.35,518.3 604.78,518.3 606.21,518.4 607.64,518.4 609.07,518.4 610.50,518.4 611.93,518.5 613.36,518.5 614.79,518.5 616.22,518.6 617.65,518.6 619.07,518.7 620.50,518.7 621.93,518.8 623.36,518.9 624.79,518.9 626.22,519.0 627.65,519.1 629.08,519.2 630.51,519.3 631.94,519.4 633.37,519.5 634.79,519.6 636.22,519.7 637.65,519.8 639.08,519.9 640.51,520.1 641.94,520.2 643.36,520.3 644.79,520.5 646.22,520.6 647.65,520.8 649.07,520.9 650.50,521.1 651.93,521.3 653.35,521.5 654.78,521.6 656.21,521.8 657.63,522.0 659.06,522.3 660.48,522.5 661.91,522.7 663.33,522.9 664.76,523.2 666.18,523.5 667.60,523.8 669.02,524.1 670.44,524.5 671.85,524.9 673.26,525.4 674.67,525.9 676.08,526.5 677.48,527.1 678.88,527.8 680.27,528.6 681.66,529.4 683.03,530.3 684.40,531.2 685.76,532.2 687.11,533.2 688.45,534.3 689.78,535.5 691.09,536.7 692.39,538.0 693.68,539.4 694.95,540.8 696.20,542.2 697.44,543.7 698.66,545.3 699.85,546.9 701.03,548.6 702.19,550.4 703.33,552.2 704.44,554.1 705.53,556.0 706.59,558.0 707.63,560.0 708.64,562.1 709.62,564.3 710.58,566.5 711.51,568.8 712.42,571.1 713.30,573.5 714.15,575.9 714.98,578.3 715.78,580.8 716.55,583.3 717.30,585.8 718.02,588.4 718.72,591.0 719.40,593.6 720.06,596.3 720.70,599.0 721.31,601.7 721.91,604.4 722.50,607.2 723.06,609.9 723.61,612.7 724.15,615.5 724.68,618.3 725.19,621.1 725.69,624.0 726.18,626.8 726.66,629.7 727.13,632.5 727.60,635.4 728.05,638.3 728.51,641.1 728.96,644.0 729.40,646.9 729.85,649.7 730.29,652.6 730.73,655.5 731.17,658.3 731.60,661.2 732.04,664.0 732.47,666.9 732.89,669.7 733.32,672.6 733.74,675.4 734.16,678.3 734.57,681.2 734.98,684.0 735.38,686.9 735.78,689.7 736.18,692.6 736.57,695.5 736.96,698.4 737.35,701.3 737.73,704.1 738.11,707.0 738.49,709.9 738.87,712.8 739.24,715.7 739.62,718.6 739.99,721.5 740.36,724.4 740.73,727.3 741.10,730.2 741.46,733.1 741.83,736.0 742.20,738.9 742.57,741.8 742.93,744.7 743.30,747.6 743.66,750.5 744.02,753.4 744.38,756.3 744.74,759.2 745.10,762.1 745.46,765.0 745.81,767.9 746.17,770.9 746.52,773.8 746.87,776.7 747.22,779.6 747.57,782.5 747.91,785.4 748.26,788.3 748.60,791.3 748.94,794.2 749.27,797.1 749.61,800.0 749.94,802.9 750.27,805.9 750.60,808.8 750.92,811.7 751.24,814.6 751.56,817.5 751.88,820.5 752.19,823.4 752.50,826.3 752.81,829.3 753.12,832.2 753.42,835.1 753.72,838.1 754.01,841.0 754.30,843.9 754.59,846.9 754.88,849.8 755.16,852.7 755.45,855.7 755.73,858.6 756.01,861.5 756.29,864.5 756.57,867.4 756.85,870.3 757.13,873.3 757.40,876.2 757.68,879.2 757.97,882.1 758.25,885.0 758.53,888.0 758.82,890.9 759.11,893.8 759.40,896.8 759.69,899.7 759.99,902.6 760.29,905.5 760.59,908.5 760.90,911.4 761.21,914.3 761.53,917.2 761.85,920.2 762.18,923.1 762.51,926.0 762.85,928.9 763.20,931.8 763.55,934.7 763.91,937.6 764.27,940.5 764.64,943.5 765.03,946.4 765.42,949.2 765.82,952.1 766.23,955.0 766.65,957.9 767.08,960.8 767.53,963.6 767.99,966.5 768.47,969.3 768.96,972.1 769.46,975.0 769.99,977.8 770.53,980.6 771.09,983.3 771.67,986.1 772.27,988.8 772.90,991.5 773.54,994.3 774.21,996.9 774.90,999.6 775.61,1002.2 776.35,1004.8 777.12,1007.4 777.91,1009.9 778.73,1012.3 779.59,1014.7 780.47,1017.1 781.38,1019.4 782.33,1021.6 783.30,1023.7 784.32,1025.8 785.36,1027.7 786.44,1029.6 787.55,1031.4 788.68,1033.2 789.85,1034.8 791.04,1036.4 792.26,1037.9 793.49,1039.4 794.75,1040.7 796.03,1042.0 797.33,1043.3 798.65,1044.5 799.97,1045.6 801.32,1046.7 802.67,1047.7 804.04,1048.7 805.42,1049.6 806.80,1050.5 808.19,1051.3 809.58,1052.1 810.98,1052.9 812.38,1053.6 813.78,1054.2 815.18,1054.9 816.58,1055.5 817.99,1056.0 819.40,1056.5 820.81,1057.0 822.22,1057.5 823.63,1057.9 825.04,1058.3 826.46,1058.6 827.88,1059.0 829.30,1059.3 830.72,1059.6 832.14,1059.8 833.56,1060.0 834.98,1060.3 836.41,1060.4 837.83,1060.6 839.26,1060.8 840.69,1060.9 842.11,1061.0 843.54,1061.1 844.97,1061.1 846.40,1061.2 847.83,1061.3 849.26,1061.3 850.69,1061.3 852.13,1061.3 853.56,1061.3 854.99,1061.3 856.42,1061.3 857.85,1061.3 859.29,1061.3 860.72,1061.2 862.15,1061.2 863.58,1061.2 865.02,1061.1 866.45,1061.1 867.88,1061.0 869.31,1061.0 870.74,1061.0 872.17,1060.9 873.61,1060.9 875.04,1060.9 876.47,1060.8 877.90,1060.8 879.33,1060.7 880.76,1060.7 882.19,1060.7 883.62,1060.6 885.05,1060.6 886.47,1060.6 887.90,1060.5 889.33,1060.5 890.76,1060.4 892.19,1060.4 893.62,1060.4 895.05,1060.4 896.48,1060.3 897.90,1060.3 899.33,1060.3 900.76,1060.2 902.19,1060.2 903.62,1060.2 905.04,1060.2 906.47,1060.1 907.90,1060.1 909.33,1060.1 910.75,1060.1 912.18,1060.1 913.61,1060.1 915.04,1060.0 916.46,1060.0 917.89,1060.0 919.32,1060.0 920.75,1060.0 922.17,1060.0 923.60,1060.0 925.03,1060.0 926.46,1060.0 927.88,1060.0 929.31,1060.0 930.74,1060.0 932.17,1060.1 933.59,1060.1 935.02,1060.1 936.45,1060.1 937.88,1060.1 939.30,1060.2 940.73,1060.2 942.16,1060.2 943.59,1060.3 945.02,1060.3 946.45,1060.4 947.87,1060.4 949.30,1060.5 950.73,1060.5 952.16,1060.6 953.59,1060.6 955.02,1060.7 956.45,1060.8 957.88,1060.8 959.30,1060.9 960.73,1061.0 962.16,1061.0 963.59,1061.1 965.02,1061.2 966.45,1061.3 967.88,1061.4 969.31,1061.4 970.74,1061.5 972.17,1061.6 973.60,1061.7 975.03,1061.8 976.46,1061.8 977.89,1061.9 979.32,1062.0 980.75,1062.1 982.18,1062.2 983.61,1062.3 985.04,1062.3 986.47,1062.4 987.90,1062.5 989.33,1062.6 990.76,1062.6 992.19,1062.7 993.62,1062.8 995.05,1062.8 996.48,1062.9 997.91,1062.9 999.34,1063.0 1000.76,1063.1 1002.19,1063.1 1003.62,1063.2 1005.05,1063.2 1006.48,1063.2 1007.91,1063.3 1009.34,1063.3 1010.77,1063.3 1012.20,1063.3 1013.62,1063.3 1015.05,1063.4 1016.48,1063.4 1017.91,1063.4 1019.34,1063.3 1020.77,1063.3 1022.19,1063.3 1023.62,1063.3 1025.05,1063.2 1026.48,1063.2" stroke="url(#gb)" stroke-width="3.2"/><path d="M103.58,517.7 105.00,517.4 106.42,517.0 107.84,516.6 109.26,516.3 110.68,515.9 112.10,515.6 113.52,515.2 114.94,514.9 116.36,514.5 117.78,514.2 119.20,513.9 120.62,513.6 122.04,513.2 123.46,512.9 124.88,512.6 126.31,512.3 127.73,512.0 129.15,511.7 130.57,511.4 131.99,511.1 133.42,510.9 134.84,510.6 136.26,510.3 137.68,510.0 139.11,509.8 140.53,509.5 141.95,509.2 143.38,509.0 144.80,508.7 146.22,508.5 147.65,508.2 149.07,508.0 150.49,507.7 151.92,507.5 153.34,507.2 154.77,507.0 156.19,506.8 157.62,506.5 159.04,506.3 160.46,506.1 161.89,505.9 163.31,505.6 164.74,505.4 166.16,505.2 167.59,505.0 169.01,504.8 170.44,504.6 171.86,504.3 173.29,504.1 174.71,503.9 176.14,503.7 177.56,503.5 178.99,503.3 180.41,503.1 181.84,502.9 183.27,502.7 184.69,502.5 186.12,502.3 187.54,502.1 188.97,501.9 190.39,501.7 191.82,501.5 193.24,501.4 194.67,501.2 196.10,501.0 197.52,500.8 198.95,500.6 200.37,500.4 201.80,500.2 203.22,500.0 204.65,499.8 206.08,499.6 207.50,499.4 208.93,499.3 210.35,499.1 211.78,498.9 213.20,498.7 214.63,498.5 216.06,498.3 217.48,498.1 218.91,497.9 220.33,497.7 221.76,497.5 223.18,497.3 224.61,497.1 226.03,496.9 227.46,496.7 228.88,496.5 230.31,496.3 231.73,496.1 233.16,495.9 234.58,495.7 236.01,495.5 237.43,495.3 238.86,495.0 240.28,494.8 241.71,494.6 243.13,494.4 244.56,494.2 245.98,493.9 247.41,493.7 248.83,493.5 250.25,493.3 251.68,493.0 253.10,492.8 254.53,492.6 255.95,492.3 257.37,492.1 258.80,491.8 260.22,491.6 261.65,491.4 263.07,491.1 264.49,490.9 265.92,490.6 267.34,490.4 268.77,490.1 270.19,489.9 271.61,489.7 273.04,489.4 274.46,489.2 275.88,488.9 277.31,488.7 278.73,488.4 280.15,488.2 281.58,487.9 283.00,487.7 284.43,487.4 285.85,487.2 287.27,486.9 288.70,486.7 290.12,486.5 291.54,486.2 292.97,486.0 294.39,485.7 295.82,485.5 297.24,485.3 298.66,485.0 300.09,484.8 301.51,484.6 302.94,484.3 304.36,484.1 305.79,483.9 307.21,483.7 308.64,483.4 310.06,483.2 311.48,483.0 312.91,482.8 314.33,482.6 315.76,482.4 317.18,482.1 318.61,481.9 320.04,481.7 321.46,481.5 322.89,481.3 324.31,481.1 325.74,481.0 327.16,480.8 328.59,480.6 330.02,480.4 331.44,480.2 332.87,480.1 334.30,479.9 335.72,479.7 337.15,479.6 338.58,479.4 340.00,479.2 341.43,479.1 342.86,478.9 344.29,478.8 345.71,478.6 347.14,478.5 348.57,478.3 350.00,478.2 351.42,478.0 352.85,477.9 354.28,477.8 355.71,477.6 357.13,477.5 358.56,477.3 359.99,477.2 361.42,477.0 362.84,476.9 364.27,476.8 365.70,476.6 367.13,476.5 368.55,476.3 369.98,476.2 371.41,476.0 372.83,475.9 374.26,475.7 375.69,475.6 377.11,475.4 378.54,475.2 379.97,475.1 381.39,474.9 382.82,474.7 384.24,474.5 385.67,474.3 387.09,474.1 388.51,473.8 389.94,473.6 391.36,473.3 392.78,473.1 394.20,472.8 395.62,472.5 397.04,472.1 398.46,471.8 399.88,471.4 401.30,471.1 402.72,470.7 404.13,470.3 405.55,469.9 406.97,469.5 408.38,469.1 409.80,468.6 411.21,468.2 412.63,467.8 414.04,467.4 415.46,466.9 416.87,466.5 418.29,466.1 419.70,465.7 421.12,465.3 422.53,464.8 423.95,464.4 425.36,464.1 426.78,463.7 428.19,463.3 429.61,462.9 431.02,462.5 432.44,462.2 433.86,461.8 435.27,461.4 436.69,461.1 438.11,460.7 439.52,460.4 440.94,460.0 442.36,459.7 443.77,459.4 445.19,459.0 446.61,458.7 448.03,458.4 449.45,458.0 450.86,457.7 452.28,457.4 453.70,457.1 455.12,456.8 456.54,456.5 457.96,456.2 459.38,455.9 460.80,455.6 462.22,455.3 463.64,455.0 465.06,454.7 466.49,454.4 467.91,454.1 469.33,453.8 470.75,453.6 472.18,453.3 473.60,453.0 475.02,452.7 476.45,452.5 477.87,452.2 479.29,451.9 480.72,451.7 482.14,451.4 483.57,451.1 484.99,450.9 486.42,450.6 487.84,450.4 489.27,450.1 490.70,449.9 492.12,449.6 493.55,449.4 494.97,449.1 496.40,448.9 497.83,448.7 499.25,448.4 500.68,448.2 502.11,448.0 503.53,447.7 504.96,447.5 506.39,447.3 507.82,447.0 509.24,446.8 510.67,446.6 512.10,446.4 513.53,446.2 514.95,446.0 516.38,445.8 517.81,445.6 519.24,445.3 520.67,445.1 522.09,444.9 523.52,444.7 524.95,444.5 526.38,444.4 527.81,444.2 529.23,444.0 530.66,443.8 532.09,443.6 533.52,443.4 534.95,443.2 536.37,443.1 537.80,442.9 539.23,442.7 540.66,442.5 542.08,442.4 543.51,442.2 544.94,442.0 546.37,441.9 547.79,441.7 549.22,441.5 550.65,441.4 552.07,441.2 553.50,441.1 554.93,440.9 556.35,440.8 557.78,440.6 559.21,440.5 560.63,440.3 562.06,440.2 563.48,440.0 564.91,439.9 566.33,439.8 567.76,439.6 569.18,439.5 570.61,439.4 572.03,439.2 573.46,439.1 574.88,439.0 576.30,438.8 577.73,438.7 579.15,438.6 580.57,438.5 581.99,438.4 583.42,438.3 584.84,438.2 586.26,438.0 587.68,437.9 589.10,437.8 590.52,437.7 591.94,437.6 593.37,437.6 594.79,437.5 596.21,437.4 597.63,437.3 599.05,437.2 600.47,437.2 601.89,437.1 603.31,437.0 604.74,437.0 606.16,437.0 607.58,436.9 609.00,436.9 610.42,436.9 611.85,436.8 613.27,436.8 614.69,436.8 616.11,436.8 617.54,436.9 618.96,436.9 620.39,436.9 621.81,436.9 623.24,437.0 624.66,437.1 626.09,437.1 627.52,437.2 628.94,437.3 630.37,437.4 631.80,437.5 633.23,437.6 634.66,437.7 636.09,437.9 637.52,438.0 638.95,438.2 640.39,438.4 641.82,438.6 643.25,438.8 644.69,439.0 646.12,439.2 647.56,439.5 649.00,439.7 650.44,440.0 651.88,440.3 653.32,440.6 654.76,440.9 656.20,441.2 657.64,441.5 659.09,441.9 660.53,442.3 661.98,442.6 663.42,443.1 664.86,443.5 666.30,443.9 667.74,444.4 669.18,444.9 670.61,445.4 672.04,446.0 673.46,446.6 674.88,447.2 676.29,447.8 677.70,448.5 679.09,449.2 680.49,450.0 681.87,450.7 683.25,451.5 684.61,452.4 685.97,453.3 687.32,454.2 688.66,455.2 689.98,456.2 691.30,457.3 692.60,458.4 693.89,459.5 695.17,460.8 696.43,462.0 697.68,463.3 698.91,464.7 700.13,466.1 701.33,467.6 702.51,469.1 703.68,470.7 704.83,472.3 705.97,474.0 707.08,475.8 708.18,477.6 709.25,479.5 710.30,481.4 711.34,483.5 712.35,485.5 713.34,487.7 714.31,489.9 715.26,492.2 716.20,494.5 717.11,496.8 718.00,499.2 718.87,501.7 719.72,504.2 720.55,506.7 721.37,509.2 722.17,511.7 722.95,514.3 723.71,516.9 724.45,519.5 725.18,522.1 725.89,524.8 726.58,527.4 727.26,530.1 727.93,532.7 728.57,535.4 729.21,538.1 729.83,540.8 730.44,543.5 731.03,546.3 731.61,549.0 732.18,551.7 732.74,554.5 733.28,557.3 733.82,560.0 734.34,562.8 734.85,565.6 735.36,568.4 735.85,571.2 736.34,574.0 736.81,576.8 737.28,579.7 737.74,582.5 738.20,585.3 738.64,588.2 739.08,591.0 739.51,593.9 739.94,596.7 740.36,599.6 740.77,602.5 741.18,605.4 741.58,608.2 741.98,611.1 742.37,614.0 742.76,616.9 743.15,619.8 743.53,622.7 743.91,625.6 744.28,628.5 744.66,631.4 745.03,634.3 745.40,637.2 745.77,640.1 746.13,643.0 746.50,645.9 746.86,648.8 747.23,651.7 747.59,654.6 747.96,657.5 748.32,660.4 748.69,663.3 749.05,666.2 749.42,669.1 749.78,671.9 750.15,674.8 750.52,677.7 750.88,680.6 751.25,683.5 751.62,686.4 751.98,689.3 752.35,692.2 752.72,695.1 753.08,698.0 753.45,700.9 753.82,703.8 754.18,706.7 754.55,709.5 754.92,712.4 755.28,715.3 755.65,718.2 756.01,721.1 756.38,724.0 756.74,726.9 757.11,729.8 757.47,732.7 757.84,735.6 758.20,738.5 758.56,741.4 758.92,744.3 759.28,747.2 759.65,750.1 760.01,753.0 760.36,756.0 760.72,758.9 761.08,761.8 761.44,764.7 761.80,767.6 762.15,770.5 762.51,773.5 762.86,776.4 763.22,779.3 763.57,782.2 763.93,785.2 764.29,788.1 764.67,791.0 765.05,793.9 765.44,796.8 765.85,799.7 766.27,802.6 766.71,805.4 767.17,808.3 767.65,811.1 768.15,813.9 768.68,816.7 769.23,819.5 769.82,822.2 770.43,824.9 771.08,827.6 771.75,830.2 772.45,832.8 773.18,835.4 773.94,837.9 774.73,840.4 775.55,842.9 776.40,845.3 777.27,847.6 778.18,849.9 779.11,852.1 780.07,854.3 781.06,856.4 782.08,858.4 783.12,860.4 784.19,862.3 785.29,864.2 786.42,865.9 787.58,867.6 788.76,869.2 789.97,870.7 791.20,872.2 792.45,873.6 793.73,874.9 795.03,876.1 796.34,877.3 797.67,878.4 799.02,879.5 800.39,880.4 801.76,881.4 803.15,882.2 804.55,883.0 805.96,883.8 807.37,884.4 808.79,885.1 810.22,885.7 811.65,886.2 813.08,886.7 814.52,887.1 815.95,887.5 817.38,887.9 818.82,888.2 820.25,888.5 821.69,888.8 823.12,889.0 824.55,889.3 825.98,889.5 827.41,889.7 828.84,889.8 830.27,890.0 831.69,890.2 833.12,890.3 834.54,890.4 835.96,890.6 837.38,890.7 838.80,890.8 840.22,890.9 841.64,891.0 843.06,891.1 844.48,891.2 845.90,891.2 847.32,891.3 848.74,891.4 850.15,891.5 851.57,891.6 852.99,891.6 854.41,891.7 855.83,891.8 857.25,891.9 858.67,891.9 860.09,892.0 861.51,892.1 862.93,892.2 864.36,892.3 865.78,892.4 867.21,892.5 868.63,892.6 870.06,892.7 871.48,892.8 872.91,892.9 874.34,893.1 875.77,893.2 877.19,893.3 878.62,893.4 880.05,893.5 881.48,893.6 882.91,893.7 884.34,893.8 885.77,893.9 887.20,894.1 888.63,894.2 890.06,894.3 891.49,894.4 892.92,894.5 894.35,894.6 895.78,894.6 897.21,894.7 898.65,894.8 900.08,894.9 901.51,895.0 902.94,895.0 904.37,895.1 905.80,895.2 907.23,895.2 908.66,895.3 910.09,895.3 911.52,895.4 912.95,895.4 914.38,895.4 915.81,895.5 917.24,895.5 918.66,895.5 920.09,895.6 921.52,895.6 922.95,895.6 924.38,895.6 925.81,895.6 927.24,895.6 928.67,895.6 930.10,895.7 931.53,895.7 932.95,895.7 934.38,895.7 935.81,895.7 937.24,895.7 938.67,895.7 940.10,895.6 941.53,895.6 942.95,895.6 944.38,895.6 945.81,895.6 947.24,895.6 948.67,895.6 950.10,895.6 951.52,895.6 952.95,895.5 954.38,895.5 955.81,895.5 957.24,895.5 958.66,895.5 960.09,895.5 961.52,895.5 962.95,895.5 964.38,895.4 965.81,895.4 967.23,895.4 968.66,895.4 970.09,895.4 971.52,895.4 972.95,895.4 974.37,895.4 975.80,895.4 977.23,895.4 978.66,895.4 980.09,895.4 981.52,895.4 982.94,895.4 984.37,895.4 985.80,895.5 987.23,895.5 988.66,895.5 990.09,895.5 991.52,895.5 992.94,895.6 994.37,895.6 995.80,895.6 997.23,895.7 998.66,895.7 1000.09,895.8 1001.52,895.8 1002.95,895.9 1004.38,895.9 1005.81,896.0 1007.23,896.0 1008.66,896.1 1010.09,896.2 1011.52,896.3 1012.95,896.4 1013.43,896.4" stroke="#f8bcc4" stroke-width="5.8"/><path d="M103.58,517.7 105.00,517.4 106.42,517.0 107.84,516.6 109.26,516.3 110.68,515.9 112.10,515.6 113.52,515.2 114.94,514.9 116.36,514.5 117.78,514.2 119.20,513.9 120.62,513.6 122.04,513.2 123.46,512.9 124.88,512.6 126.31,512.3 127.73,512.0 129.15,511.7 130.57,511.4 131.99,511.1 133.42,510.9 134.84,510.6 136.26,510.3 137.68,510.0 139.11,509.8 140.53,509.5 141.95,509.2 143.38,509.0 144.80,508.7 146.22,508.5 147.65,508.2 149.07,508.0 150.49,507.7 151.92,507.5 153.34,507.2 154.77,507.0 156.19,506.8 157.62,506.5 159.04,506.3 160.46,506.1 161.89,505.9 163.31,505.6 164.74,505.4 166.16,505.2 167.59,505.0 169.01,504.8 170.44,504.6 171.86,504.3 173.29,504.1 174.71,503.9 176.14,503.7 177.56,503.5 178.99,503.3 180.41,503.1 181.84,502.9 183.27,502.7 184.69,502.5 186.12,502.3 187.54,502.1 188.97,501.9 190.39,501.7 191.82,501.5 193.24,501.4 194.67,501.2 196.10,501.0 197.52,500.8 198.95,500.6 200.37,500.4 201.80,500.2 203.22,500.0 204.65,499.8 206.08,499.6 207.50,499.4 208.93,499.3 210.35,499.1 211.78,498.9 213.20,498.7 214.63,498.5 216.06,498.3 217.48,498.1 218.91,497.9 220.33,497.7 221.76,497.5 223.18,497.3 224.61,497.1 226.03,496.9 227.46,496.7 228.88,496.5 230.31,496.3 231.73,496.1 233.16,495.9 234.58,495.7 236.01,495.5 237.43,495.3 238.86,495.0 240.28,494.8 241.71,494.6 243.13,494.4 244.56,494.2 245.98,493.9 247.41,493.7 248.83,493.5 250.25,493.3 251.68,493.0 253.10,492.8 254.53,492.6 255.95,492.3 257.37,492.1 258.80,491.8 260.22,491.6 261.65,491.4 263.07,491.1 264.49,490.9 265.92,490.6 267.34,490.4 268.77,490.1 270.19,489.9 271.61,489.7 273.04,489.4 274.46,489.2 275.88,488.9 277.31,488.7 278.73,488.4 280.15,488.2 281.58,487.9 283.00,487.7 284.43,487.4 285.85,487.2 287.27,486.9 288.70,486.7 290.12,486.5 291.54,486.2 292.97,486.0 294.39,485.7 295.82,485.5 297.24,485.3 298.66,485.0 300.09,484.8 301.51,484.6 302.94,484.3 304.36,484.1 305.79,483.9 307.21,483.7 308.64,483.4 310.06,483.2 311.48,483.0 312.91,482.8 314.33,482.6 315.76,482.4 317.18,482.1 318.61,481.9 320.04,481.7 321.46,481.5 322.89,481.3 324.31,481.1 325.74,481.0 327.16,480.8 328.59,480.6 330.02,480.4 331.44,480.2 332.87,480.1 334.30,479.9 335.72,479.7 337.15,479.6 338.58,479.4 340.00,479.2 341.43,479.1 342.86,478.9 344.29,478.8 345.71,478.6 347.14,478.5 348.57,478.3 350.00,478.2 351.42,478.0 352.85,477.9 354.28,477.8 355.71,477.6 357.13,477.5 358.56,477.3 359.99,477.2 361.42,477.0 362.84,476.9 364.27,476.8 365.70,476.6 367.13,476.5 368.55,476.3 369.98,476.2 371.41,476.0 372.83,475.9 374.26,475.7 375.69,475.6 377.11,475.4 378.54,475.2 379.97,475.1 381.39,474.9 382.82,474.7 384.24,474.5 385.67,474.3 387.09,474.1 388.51,473.8 389.94,473.6 391.36,473.3 392.78,473.1 394.20,472.8 395.62,472.5 397.04,472.1 398.46,471.8 399.88,471.4 401.30,471.1 402.72,470.7 404.13,470.3 405.55,469.9 406.97,469.5 408.38,469.1 409.80,468.6 411.21,468.2 412.63,467.8 414.04,467.4 415.46,466.9 416.87,466.5 418.29,466.1 419.70,465.7 421.12,465.3 422.53,464.8 423.95,464.4 425.36,464.1 426.78,463.7 428.19,463.3 429.61,462.9 431.02,462.5 432.44,462.2 433.86,461.8 435.27,461.4 436.69,461.1 438.11,460.7 439.52,460.4 440.94,460.0 442.36,459.7 443.77,459.4 445.19,459.0 446.61,458.7 448.03,458.4 449.45,458.0 450.86,457.7 452.28,457.4 453.70,457.1 455.12,456.8 456.54,456.5 457.96,456.2 459.38,455.9 460.80,455.6 462.22,455.3 463.64,455.0 465.06,454.7 466.49,454.4 467.91,454.1 469.33,453.8 470.75,453.6 472.18,453.3 473.60,453.0 475.02,452.7 476.45,452.5 477.87,452.2 479.29,451.9 480.72,451.7 482.14,451.4 483.57,451.1 484.99,450.9 486.42,450.6 487.84,450.4 489.27,450.1 490.70,449.9 492.12,449.6 493.55,449.4 494.97,449.1 496.40,448.9 497.83,448.7 499.25,448.4 500.68,448.2 502.11,448.0 503.53,447.7 504.96,447.5 506.39,447.3 507.82,447.0 509.24,446.8 510.67,446.6 512.10,446.4 513.53,446.2 514.95,446.0 516.38,445.8 517.81,445.6 519.24,445.3 520.67,445.1 522.09,444.9 523.52,444.7 524.95,444.5 526.38,444.4 527.81,444.2 529.23,444.0 530.66,443.8 532.09,443.6 533.52,443.4 534.95,443.2 536.37,443.1 537.80,442.9 539.23,442.7 540.66,442.5 542.08,442.4 543.51,442.2 544.94,442.0 546.37,441.9 547.79,441.7 549.22,441.5 550.65,441.4 552.07,441.2 553.50,441.1 554.93,440.9 556.35,440.8 557.78,440.6 559.21,440.5 560.63,440.3 562.06,440.2 563.48,440.0 564.91,439.9 566.33,439.8 567.76,439.6 569.18,439.5 570.61,439.4 572.03,439.2 573.46,439.1 574.88,439.0 576.30,438.8 577.73,438.7 579.15,438.6 580.57,438.5 581.99,438.4 583.42,438.3 584.84,438.2 586.26,438.0 587.68,437.9 589.10,437.8 590.52,437.7 591.94,437.6 593.37,437.6 594.79,437.5 596.21,437.4 597.63,437.3 599.05,437.2 600.47,437.2 601.89,437.1 603.31,437.0 604.74,437.0 606.16,437.0 607.58,436.9 609.00,436.9 610.42,436.9 611.85,436.8 613.27,436.8 614.69,436.8 616.11,436.8 617.54,436.9 618.96,436.9 620.39,436.9 621.81,436.9 623.24,437.0 624.66,437.1 626.09,437.1 627.52,437.2 628.94,437.3 630.37,437.4 631.80,437.5 633.23,437.6 634.66,437.7 636.09,437.9 637.52,438.0 638.95,438.2 640.39,438.4 641.82,438.6 643.25,438.8 644.69,439.0 646.12,439.2 647.56,439.5 649.00,439.7 650.44,440.0 651.88,440.3 653.32,440.6 654.76,440.9 656.20,441.2 657.64,441.5 659.09,441.9 660.53,442.3 661.98,442.6 663.42,443.1 664.86,443.5 666.30,443.9 667.74,444.4 669.18,444.9 670.61,445.4 672.04,446.0 673.46,446.6 674.88,447.2 676.29,447.8 677.70,448.5 679.09,449.2 680.49,450.0 681.87,450.7 683.25,451.5 684.61,452.4 685.97,453.3 687.32,454.2 688.66,455.2 689.98,456.2 691.30,457.3 692.60,458.4 693.89,459.5 695.17,460.8 696.43,462.0 697.68,463.3 698.91,464.7 700.13,466.1 701.33,467.6 702.51,469.1 703.68,470.7 704.83,472.3 705.97,474.0 707.08,475.8 708.18,477.6 709.25,479.5 710.30,481.4 711.34,483.5 712.35,485.5 713.34,487.7 714.31,489.9 715.26,492.2 716.20,494.5 717.11,496.8 718.00,499.2 718.87,501.7 719.72,504.2 720.55,506.7 721.37,509.2 722.17,511.7 722.95,514.3 723.71,516.9 724.45,519.5 725.18,522.1 725.89,524.8 726.58,527.4 727.26,530.1 727.93,532.7 728.57,535.4 729.21,538.1 729.83,540.8 730.44,543.5 731.03,546.3 731.61,549.0 732.18,551.7 732.74,554.5 733.28,557.3 733.82,560.0 734.34,562.8 734.85,565.6 735.36,568.4 735.85,571.2 736.34,574.0 736.81,576.8 737.28,579.7 737.74,582.5 738.20,585.3 738.64,588.2 739.08,591.0 739.51,593.9 739.94,596.7 740.36,599.6 740.77,602.5 741.18,605.4 741.58,608.2 741.98,611.1 742.37,614.0 742.76,616.9 743.15,619.8 743.53,622.7 743.91,625.6 744.28,628.5 744.66,631.4 745.03,634.3 745.40,637.2 745.77,640.1 746.13,643.0 746.50,645.9 746.86,648.8 747.23,651.7 747.59,654.6 747.96,657.5 748.32,660.4 748.69,663.3 749.05,666.2 749.42,669.1 749.78,671.9 750.15,674.8 750.52,677.7 750.88,680.6 751.25,683.5 751.62,686.4 751.98,689.3 752.35,692.2 752.72,695.1 753.08,698.0 753.45,700.9 753.82,703.8 754.18,706.7 754.55,709.5 754.92,712.4 755.28,715.3 755.65,718.2 756.01,721.1 756.38,724.0 756.74,726.9 757.11,729.8 757.47,732.7 757.84,735.6 758.20,738.5 758.56,741.4 758.92,744.3 759.28,747.2 759.65,750.1 760.01,753.0 760.36,756.0 760.72,758.9 761.08,761.8 761.44,764.7 761.80,767.6 762.15,770.5 762.51,773.5 762.86,776.4 763.22,779.3 763.57,782.2 763.93,785.2 764.29,788.1 764.67,791.0 765.05,793.9 765.44,796.8 765.85,799.7 766.27,802.6 766.71,805.4 767.17,808.3 767.65,811.1 768.15,813.9 768.68,816.7 769.23,819.5 769.82,822.2 770.43,824.9 771.08,827.6 771.75,830.2 772.45,832.8 773.18,835.4 773.94,837.9 774.73,840.4 775.55,842.9 776.40,845.3 777.27,847.6 778.18,849.9 779.11,852.1 780.07,854.3 781.06,856.4 782.08,858.4 783.12,860.4 784.19,862.3 785.29,864.2 786.42,865.9 787.58,867.6 788.76,869.2 789.97,870.7 791.20,872.2 792.45,873.6 793.73,874.9 795.03,876.1 796.34,877.3 797.67,878.4 799.02,879.5 800.39,880.4 801.76,881.4 803.15,882.2 804.55,883.0 805.96,883.8 807.37,884.4 808.79,885.1 810.22,885.7 811.65,886.2 813.08,886.7 814.52,887.1 815.95,887.5 817.38,887.9 818.82,888.2 820.25,888.5 821.69,888.8 823.12,889.0 824.55,889.3 825.98,889.5 827.41,889.7 828.84,889.8 830.27,890.0 831.69,890.2 833.12,890.3 834.54,890.4 835.96,890.6 837.38,890.7 838.80,890.8 840.22,890.9 841.64,891.0 843.06,891.1 844.48,891.2 845.90,891.2 847.32,891.3 848.74,891.4 850.15,891.5 851.57,891.6 852.99,891.6 854.41,891.7 855.83,891.8 857.25,891.9 858.67,891.9 860.09,892.0 861.51,892.1 862.93,892.2 864.36,892.3 865.78,892.4 867.21,892.5 868.63,892.6 870.06,892.7 871.48,892.8 872.91,892.9 874.34,893.1 875.77,893.2 877.19,893.3 878.62,893.4 880.05,893.5 881.48,893.6 882.91,893.7 884.34,893.8 885.77,893.9 887.20,894.1 888.63,894.2 890.06,894.3 891.49,894.4 892.92,894.5 894.35,894.6 895.78,894.6 897.21,894.7 898.65,894.8 900.08,894.9 901.51,895.0 902.94,895.0 904.37,895.1 905.80,895.2 907.23,895.2 908.66,895.3 910.09,895.3 911.52,895.4 912.95,895.4 914.38,895.4 915.81,895.5 917.24,895.5 918.66,895.5 920.09,895.6 921.52,895.6 922.95,895.6 924.38,895.6 925.81,895.6 927.24,895.6 928.67,895.6 930.10,895.7 931.53,895.7 932.95,895.7 934.38,895.7 935.81,895.7 937.24,895.7 938.67,895.7 940.10,895.6 941.53,895.6 942.95,895.6 944.38,895.6 945.81,895.6 947.24,895.6 948.67,895.6 950.10,895.6 951.52,895.6 952.95,895.5 954.38,895.5 955.81,895.5 957.24,895.5 958.66,895.5 960.09,895.5 961.52,895.5 962.95,895.5 964.38,895.4 965.81,895.4 967.23,895.4 968.66,895.4 970.09,895.4 971.52,895.4 972.95,895.4 974.37,895.4 975.80,895.4 977.23,895.4 978.66,895.4 980.09,895.4 981.52,895.4 982.94,895.4 984.37,895.4 985.80,895.5 987.23,895.5 988.66,895.5 990.09,895.5 991.52,895.5 992.94,895.6 994.37,895.6 995.80,895.6 997.23,895.7 998.66,895.7 1000.09,895.8 1001.52,895.8 1002.95,895.9 1004.38,895.9 1005.81,896.0 1007.23,896.0 1008.66,896.1 1010.09,896.2 1011.52,896.3 1012.95,896.4 1013.43,896.4" stroke="url(#gr)" stroke-width="3.2"/><path d="M105.00,217.6 106.43,217.7 107.86,217.7 109.29,217.7 110.72,217.8 112.14,217.8 113.57,217.9 115.00,217.9 116.43,218.0 117.86,218.0 119.29,218.1 120.72,218.2 122.15,218.2 123.58,218.3 125.00,218.3 126.43,218.4 127.86,218.5 129.29,218.5 130.72,218.6 132.15,218.7 133.58,218.8 135.00,218.8 136.43,218.9 137.86,219.0 139.29,219.1 140.72,219.1 142.15,219.2 143.57,219.3 145.00,219.4 146.43,219.5 147.86,219.6 149.29,219.7 150.71,219.7 152.14,219.8 153.57,219.9 155.00,220.0 156.43,220.1 157.85,220.2 159.28,220.3 160.71,220.4 162.14,220.5 163.57,220.6 164.99,220.7 166.42,220.8 167.85,220.9 169.28,221.0 170.70,221.2 172.13,221.3 173.56,221.4 174.99,221.5 176.41,221.6 177.84,221.7 179.27,221.8 180.70,221.9 182.13,222.0 183.55,222.2 184.98,222.3 186.41,222.4 187.84,222.5 189.26,222.6 190.69,222.8 192.12,222.9 193.55,223.0 194.97,223.1 196.40,223.2 197.83,223.4 199.25,223.5 200.68,223.6 202.11,223.7 203.54,223.9 204.96,224.0 206.39,224.1 207.82,224.3 209.25,224.4 210.67,224.5 212.10,224.6 213.53,224.8 214.96,224.9 216.38,225.0 217.81,225.2 219.24,225.3 220.67,225.4 222.09,225.6 223.52,225.7 224.95,225.8 226.37,226.0 227.80,226.1 229.23,226.2 230.66,226.4 232.08,226.5 233.51,226.6 234.94,226.8 236.37,226.9 237.79,227.0 239.22,227.2 240.65,227.3 242.08,227.4 243.50,227.6 244.93,227.7 246.36,227.8 247.79,228.0 249.21,228.1 250.64,228.2 252.07,228.4 253.49,228.5 254.92,228.6 256.35,228.8 257.78,228.9 259.20,229.0 260.63,229.2 262.06,229.3 263.49,229.4 264.91,229.6 266.34,229.7 267.77,229.8 269.20,229.9 270.63,230.1 272.05,230.2 273.48,230.3 274.91,230.5 276.34,230.6 277.76,230.7 279.19,230.9 280.62,231.0 282.05,231.1 283.47,231.2 284.90,231.4 286.33,231.5 287.76,231.6 289.19,231.7 290.61,231.9 292.04,232.0 293.47,232.1 294.90,232.2 296.32,232.3 297.75,232.5 299.18,232.6 300.61,232.7 302.04,232.8 303.46,232.9 304.89,233.1 306.32,233.2 307.75,233.3 309.18,233.4 310.60,233.5 312.03,233.6 313.46,233.7 314.89,233.8 316.32,234.0 317.74,234.1 319.17,234.2 320.60,234.3 322.03,234.4 323.46,234.5 324.88,234.6 326.31,234.7 327.74,234.8 329.17,234.9 330.60,235.0 332.02,235.1 333.45,235.2 334.88,235.3 336.31,235.4 337.74,235.5 339.16,235.6 340.59,235.7 342.02,235.8 343.45,235.9 344.88,236.0 346.30,236.0 347.73,236.1 349.16,236.2 350.59,236.3 352.02,236.4 353.44,236.5 354.87,236.6 356.30,236.6 357.73,236.7 359.16,236.8 360.59,236.9 362.01,236.9 363.44,237.0 364.87,237.1 366.30,237.2 367.73,237.2 369.15,237.3 370.58,237.4 372.01,237.4 373.44,237.5 374.87,237.5 376.30,237.6 377.72,237.7 379.15,237.7 380.58,237.8 382.01,237.8 383.44,237.9 384.86,238.0 386.29,238.0 387.72,238.1 389.15,238.1 390.58,238.2 392.01,238.2 393.43,238.3 394.86,238.4 396.29,238.4 397.72,238.5 399.15,238.5 400.57,238.6 402.00,238.7 403.43,238.7 404.86,238.8 406.29,238.8 407.72,238.9 409.14,239.0 410.57,239.1 412.00,239.1 413.43,239.2 414.86,239.3 416.28,239.4 417.71,239.4 419.14,239.5 420.57,239.6 422.00,239.7 423.43,239.8 424.85,239.9 426.28,240.0 427.71,240.1 429.14,240.2 430.57,240.3 431.99,240.4 433.42,240.5 434.85,240.6 436.28,240.7 437.71,240.8 439.13,240.9 440.56,241.0 441.99,241.1 443.42,241.2 444.84,241.4 446.27,241.5 447.70,241.6 449.13,241.7 450.56,241.9 451.98,242.0 453.41,242.1 454.84,242.3 456.27,242.4 457.69,242.5 459.12,242.7 460.55,242.8 461.98,243.0 463.40,243.1 464.83,243.3 466.26,243.4 467.68,243.6 469.11,243.7 470.54,243.9 471.96,244.1 473.39,244.2 474.82,244.4 476.24,244.6 477.67,244.7 479.10,244.9 480.52,245.1 481.95,245.3 483.38,245.4 484.80,245.6 486.23,245.8 487.65,246.0 489.08,246.2 490.51,246.4 491.93,246.6 493.36,246.8 494.78,247.0 496.21,247.2 497.63,247.4 499.06,247.6 500.48,247.8 501.91,248.0 503.33,248.3 504.76,248.5 506.18,248.7 507.61,248.9 509.03,249.2 510.46,249.4 511.88,249.6 513.31,249.9 514.73,250.1 516.16,250.4 517.58,250.6 519.00,250.8 520.43,251.1 521.85,251.4 523.27,251.6 524.70,251.9 526.12,252.1 527.54,252.4 528.97,252.7 530.39,252.9 531.81,253.2 533.24,253.5 534.66,253.8 536.08,254.0 537.50,254.3 538.92,254.6 540.35,254.9 541.77,255.2 543.19,255.5 544.61,255.8 546.03,256.1 547.45,256.4 548.88,256.7 550.30,257.0 551.72,257.4 553.14,257.7 554.56,258.0 555.98,258.3 557.40,258.7 558.82,259.0 560.24,259.3 561.66,259.7 563.08,260.0 564.50,260.3 565.92,260.7 567.34,261.0 568.75,261.4 570.17,261.8 571.59,262.1 573.01,262.5 574.43,262.8 575.85,263.2 577.26,263.6 578.68,264.0 580.10,264.3 581.52,264.7 582.93,265.1 584.35,265.5 585.77,265.9 587.19,266.3 588.60,266.7 590.02,267.1 591.43,267.5 592.85,267.9 594.27,268.3 595.68,268.8 597.10,269.2 598.51,269.6 599.93,270.0 601.34,270.5 602.76,270.9 604.17,271.3 605.58,271.8 607.00,272.2 608.41,272.7 609.82,273.1 611.24,273.6 612.65,274.0 614.06,274.5 615.48,275.0 616.89,275.4 618.30,275.9 619.71,276.4 621.12,276.9 622.54,277.4 623.95,277.8 625.36,278.3 626.77,278.8 628.18,279.3 629.59,279.8 631.00,280.4 632.40,280.9 633.81,281.4 635.22,282.0 636.62,282.5 638.03,283.1 639.43,283.6 640.83,284.2 642.23,284.8 643.63,285.4 645.03,286.0 646.42,286.6 647.82,287.3 649.21,287.9 650.60,288.6 651.99,289.2 653.37,289.9 654.76,290.6 656.14,291.4 657.52,292.1 658.89,292.9 660.27,293.7 661.64,294.4 663.01,295.3 664.37,296.1 665.74,297.0 667.10,297.8 668.45,298.7 669.81,299.6 671.16,300.6 672.50,301.6 673.85,302.5 675.19,303.6 676.52,304.6 677.86,305.7 679.19,306.7 680.51,307.9 681.83,309.0 683.15,310.2 684.46,311.4 685.77,312.6 687.07,313.9 688.37,315.1 689.67,316.5 690.96,317.8 692.24,319.2 693.52,320.6 694.79,322.0 696.05,323.5 697.30,325.0 698.54,326.6 699.77,328.1 700.99,329.8 702.20,331.4 703.39,333.1 704.57,334.8 705.74,336.6 706.89,338.4 708.02,340.2 709.14,342.1 710.24,344.0 711.32,346.0 712.39,348.0 713.43,350.1 714.45,352.2 715.45,354.3 716.43,356.5 717.39,358.7 718.32,361.0 719.23,363.3 720.11,365.7 720.97,368.1 721.81,370.6 722.62,373.0 723.42,375.6 724.19,378.1 724.95,380.7 725.69,383.2 726.41,385.8 727.12,388.5 727.81,391.1 728.48,393.7 729.14,396.4 729.78,399.1 730.41,401.7 731.03,404.4 731.63,407.1 732.22,409.9 732.79,412.6 733.35,415.3 733.90,418.1 734.43,420.8 734.96,423.6 735.47,426.4 735.97,429.2 736.46,432.0 736.94,434.8 737.40,437.6 737.86,440.4 738.31,443.3 738.75,446.1 739.18,449.0 739.59,451.8 740.01,454.7 740.41,457.6 740.80,460.5 741.19,463.3 741.57,466.2 741.94,469.1 742.31,472.0 742.66,474.9 743.02,477.9 743.36,480.8 743.71,483.7 744.04,486.6 744.37,489.6 744.70,492.5 745.02,495.4 745.34,498.4 745.66,501.3 745.97,504.2 746.28,507.2 746.58,510.1 746.88,513.1 747.19,516.0 747.49,519.0 747.78,521.9 748.08,524.9 748.38,527.8 748.67,530.8 748.97,533.7 749.26,536.7 749.56,539.6 749.86,542.6 750.15,545.5 750.45,548.5 750.75,551.4 751.05,554.3 751.36,557.3 751.66,560.2 751.96,563.1 752.27,566.1 752.58,569.0 752.88,571.9 753.19,574.9 753.50,577.8 753.81,580.7 754.12,583.6 754.43,586.5 754.75,589.5 755.06,592.4 755.38,595.3 755.69,598.2 756.01,601.1 756.32,604.1 756.64,607.0 756.96,609.9 757.28,612.8 757.60,615.7 757.92,618.6 758.24,621.5 758.56,624.5 758.88,627.4 759.20,630.3 759.53,633.2 759.85,636.1 760.17,639.0 760.50,641.9 760.82,644.8 761.15,647.8 761.47,650.7 761.80,653.6 762.12,656.5 762.45,659.4 762.78,662.3 763.10,665.2 763.43,668.2 763.76,671.1 764.08,674.0 764.41,676.9 764.74,679.8 765.07,682.7 765.39,685.7 765.72,688.6 766.05,691.5 766.38,694.4 766.71,697.4 767.03,700.3 767.36,703.2 767.69,706.2 768.02,709.1 768.35,712.0 768.68,714.9 769.02,717.9 769.36,720.8 769.70,723.7 770.05,726.6 770.41,729.6 770.77,732.5 771.13,735.4 771.50,738.3 771.88,741.2 772.27,744.1 772.67,747.0 773.08,749.9 773.49,752.8 773.92,755.6 774.36,758.5 774.81,761.4 775.28,764.2 775.78,767.0 776.30,769.7 776.86,772.5 777.45,775.1 778.08,777.7 778.75,780.3 779.48,782.7 780.25,785.1 781.07,787.5 781.94,789.7 782.85,792.0 783.79,794.3 784.77,796.5 785.78,798.6 786.83,800.8 787.90,802.9 789.00,805.0 790.12,807.0 791.26,809.0 792.42,810.9 793.60,812.8 794.79,814.6 796.00,816.4 797.21,818.0 798.44,819.7 799.67,821.2 800.91,822.7 802.17,824.1 803.43,825.5 804.70,826.8 805.97,828.1 807.26,829.3 808.55,830.4 809.86,831.5 811.17,832.6 812.48,833.6 813.81,834.5 815.14,835.4 816.48,836.3 817.82,837.1 819.17,837.8 820.53,838.6 821.89,839.2 823.26,839.9 824.64,840.5 826.02,841.0 827.40,841.6 828.79,842.1 830.19,842.5 831.59,843.0 832.99,843.4 834.40,843.7 835.81,844.1 837.22,844.4 838.64,844.7 840.07,845.0 841.49,845.2 842.92,845.5 844.35,845.7 845.78,845.9 847.22,846.0 848.66,846.2 850.10,846.4 851.54,846.5 852.98,846.6 854.43,846.7 855.87,846.8 857.32,846.9 858.76,847.0 860.21,847.1 861.66,847.2 863.11,847.3 864.55,847.4 866.00,847.5 867.45,847.6 868.89,847.7 870.34,847.8 871.78,847.9 873.22,848.0 874.66,848.1 876.10,848.2 877.54,848.3 878.98,848.5 880.42,848.6 881.85,848.8 883.29,848.9 884.72,849.1 886.16,849.2 887.59,849.4 889.02,849.6 890.45,849.7 891.88,849.9 893.31,850.1 894.74,850.3 896.17,850.5 897.59,850.7 899.02,850.9 900.44,851.1 901.87,851.4 903.29,851.6 904.71,851.8 906.14,852.0 907.56,852.3 908.98,852.5 910.40,852.8 911.82,853.0 913.24,853.3 914.66,853.6 916.07,853.8 917.49,854.1 918.91,854.4 920.33,854.7 921.74,854.9 923.16,855.2 924.57,855.5 925.99,855.8 927.40,856.1 928.82,856.4 930.23,856.7 931.64,857.1 933.06,857.4 934.47,857.7 935.88,858.0 937.29,858.4 938.71,858.7 940.12,859.0 941.53,859.4 942.94,859.7 944.35,860.1 945.76,860.4 947.17,860.8 948.58,861.2 949.99,861.5 951.40,861.9 952.82,862.3 954.23,862.6 955.64,863.0 957.05,863.4 958.46,863.8 959.87,864.2 961.28,864.6 962.69,865.0 964.10,865.4 965.51,865.8 966.92,866.2 968.33,866.6 969.74,867.0 971.15,867.4 972.57,867.8 973.98,868.3 975.39,868.7 976.80,869.1 978.21,869.5 979.63,870.0 981.04,870.4 982.45,870.8 983.87,871.3 985.28,871.7 986.69,872.2 988.11,872.6 989.52,873.1 990.94,873.5 992.36,874.0 993.77,874.4 995.19,874.9 996.61,875.4 998.03,875.8 999.44,876.3 1000.86,876.8 1002.28,877.2 1003.70,877.7 1005.12,878.2 1006.55,878.6 1007.97,879.1 1009.39,879.6 1010.81,880.1 1012.24,880.6 1013.66,881.1 1015.09,881.5 1016.52,882.0" stroke="#000" stroke-width="4.0"/></g><text x="0" y="0" transform="translate(416.9,1391) scale(1.19,1)" text-anchor="middle" style="font-family:'Liberation Serif','Times New Roman',serif;stroke:#fff;stroke-width:1.1px;font-size:70px">400</text><text x="0" y="0" transform="translate(851.2,1391) scale(1.19,1)" text-anchor="middle" style="font-family:'Liberation Serif','Times New Roman',serif;stroke:#fff;stroke-width:1.1px;font-size:70px">500</text><text x="0" y="0" transform="translate(1275.3,1389) scale(1.19,1)" text-anchor="middle" style="font-family:'Liberation Serif','Times New Roman',serif;stroke:#fff;stroke-width:1.1px;font-size:70px">600</text><text x="0" y="0" transform="translate(1706.9,1391) scale(1.19,1)" text-anchor="middle" style="font-family:'Liberation Serif','Times New Roman',serif;stroke:#fff;stroke-width:1.1px;font-size:70px">700</text><text x="0" y="0" transform="translate(2143.3,1389) scale(1.19,1)" text-anchor="middle" style="font-family:'Liberation Serif','Times New Roman',serif;stroke:#fff;stroke-width:1.1px;font-size:70px">800</text><text id="wl" x="-284.48" y="0" dx="-1.25 -0.08 0.19 -0.01 -1.72 0.06 -2.07 -1.29 0.62 0.86 -0.63 2.85 0.79 -1.17" transform="translate(1157.1,1527.5) scale(1.132,1)" style="font-family:'Liberation Serif','Times New Roman',serif;stroke:#fff;stroke-width:1.1px;font-size:85px">Wavelength(nm)</text><text id="ab" x="-275.40" y="0" dx="2.80 -1.91 -1.40 -1.83 -0.84 -0.13 -0.55 -0.41 2.16 -1.05 1.10 0.22 -0.26 -0.46 0.91 -0.54" transform="translate(109,611.5) rotate(-90) scale(1,1.237)" style="font-family:'Liberation Serif','Times New Roman',serif;stroke:#fff;stroke-width:1.1px;font-size:80px">Absorbance(a.u.)</text><text x="0" y="0" transform="translate(2177.4,872) scale(1.25,1)" style="font-family:'NanumGothic','DejaVu Sans',sans-serif;font-size:78px">d</text><text x="0" y="0" transform="translate(2177.2,933.6) scale(1.25,1)" style="font-family:'NanumGothic','DejaVu Sans',sans-serif;font-size:78px">c</text><text x="0" y="0" transform="translate(2184.3,1086.5) scale(1.25,1)" style="font-family:'NanumGothic','DejaVu Sans',sans-serif;font-size:78px">b</text><text x="0" y="0" transform="translate(2192.3,1256.5) scale(1.25,1)" style="font-family:'NanumGothic','DejaVu Sans',sans-serif;font-size:78px">a</text></svg></body></html>
